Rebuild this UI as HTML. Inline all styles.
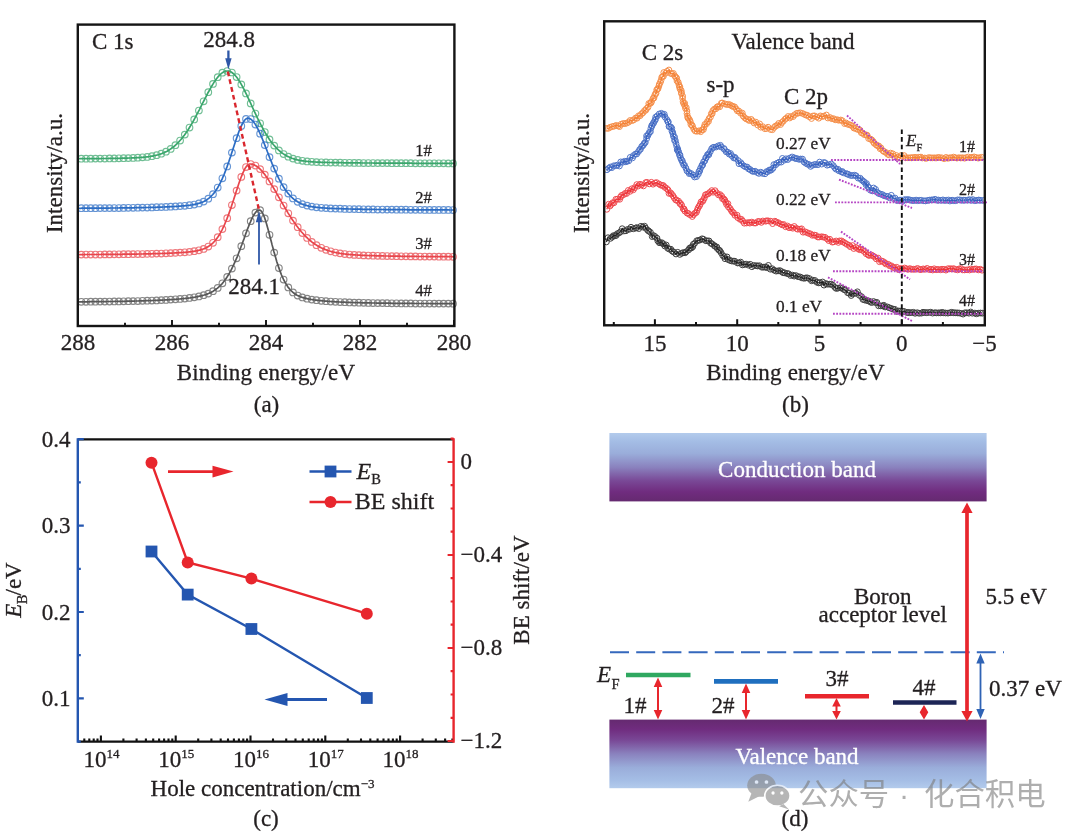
<!DOCTYPE html>
<html lang="en"><head><meta charset="utf-8"><title>Figure</title>
<style>
html,body{margin:0;padding:0;background:#fff;}
body{width:1080px;height:837px;overflow:hidden;}
svg{display:block;font-family:'Liberation Serif', 'Noto Serif CJK SC', serif;}
svg text{stroke:#231f20;stroke-width:0.3px;}
svg text.w{stroke:#fff;}
svg text.n{stroke:none;}
</style></head><body>
<svg width="1080" height="837" viewBox="0 0 1080 837">
<rect width="1080" height="837" fill="#fff"/>
<g id="pa">
<g fill="none" stroke="#3aa66c">
<g stroke-width="1.15" opacity="0.72"><circle cx="81.3" cy="158.7" r="3.3"/><circle cx="86" cy="158.7" r="3.3"/><circle cx="90.7" cy="158.7" r="3.3"/><circle cx="95.4" cy="158.6" r="3.3"/><circle cx="100.1" cy="158.6" r="3.3"/><circle cx="104.8" cy="158.5" r="3.3"/><circle cx="109.5" cy="158.4" r="3.3"/><circle cx="114.2" cy="158.4" r="3.3"/><circle cx="118.9" cy="158.3" r="3.3"/><circle cx="123.6" cy="158.2" r="3.3"/><circle cx="128.3" cy="158.1" r="3.3"/><circle cx="133.1" cy="157.9" r="3.3"/><circle cx="137.8" cy="157.7" r="3.3"/><circle cx="142.5" cy="157.3" r="3.3"/><circle cx="147.2" cy="156.9" r="3.3"/><circle cx="151.9" cy="156.2" r="3.3"/><circle cx="156.6" cy="155.2" r="3.3"/><circle cx="161.3" cy="153.7" r="3.3"/><circle cx="166" cy="151.7" r="3.3"/><circle cx="170.7" cy="148.9" r="3.3"/><circle cx="175.4" cy="145.2" r="3.3"/><circle cx="180.1" cy="140.5" r="3.3"/><circle cx="184.8" cy="134.6" r="3.3"/><circle cx="189.5" cy="127.5" r="3.3"/><circle cx="194.2" cy="119.4" r="3.3"/><circle cx="198.9" cy="110.5" r="3.3"/><circle cx="203.6" cy="101.3" r="3.3"/><circle cx="208.3" cy="92.2" r="3.3"/><circle cx="213" cy="83.9" r="3.3"/><circle cx="217.7" cy="77.2" r="3.3"/><circle cx="222.4" cy="72.7" r="3.3"/><circle cx="227.2" cy="71" r="3.3"/><circle cx="231.9" cy="72.5" r="3.3"/><circle cx="236.6" cy="77.1" r="3.3"/><circle cx="241.3" cy="84.4" r="3.3"/><circle cx="246" cy="93.4" r="3.3"/><circle cx="250.7" cy="103.4" r="3.3"/><circle cx="255.4" cy="113.6" r="3.3"/><circle cx="260.1" cy="123.3" r="3.3"/><circle cx="264.8" cy="132" r="3.3"/><circle cx="269.5" cy="139.4" r="3.3"/><circle cx="274.2" cy="145.6" r="3.3"/><circle cx="278.9" cy="150.4" r="3.3"/><circle cx="283.6" cy="154" r="3.3"/><circle cx="288.3" cy="156.7" r="3.3"/><circle cx="293" cy="158.6" r="3.3"/><circle cx="297.7" cy="159.9" r="3.3"/><circle cx="302.4" cy="160.8" r="3.3"/><circle cx="307.1" cy="161.4" r="3.3"/><circle cx="311.8" cy="161.8" r="3.3"/><circle cx="316.5" cy="162.1" r="3.3"/><circle cx="321.3" cy="162.3" r="3.3"/><circle cx="326" cy="162.4" r="3.3"/><circle cx="330.7" cy="162.5" r="3.3"/><circle cx="335.4" cy="162.6" r="3.3"/><circle cx="340.1" cy="162.7" r="3.3"/><circle cx="344.8" cy="162.8" r="3.3"/><circle cx="349.5" cy="162.8" r="3.3"/><circle cx="354.2" cy="162.9" r="3.3"/><circle cx="358.9" cy="162.9" r="3.3"/><circle cx="363.6" cy="163" r="3.3"/><circle cx="368.3" cy="163" r="3.3"/><circle cx="373" cy="163" r="3.3"/><circle cx="377.7" cy="163.1" r="3.3"/><circle cx="382.4" cy="163.1" r="3.3"/><circle cx="387.1" cy="163.1" r="3.3"/><circle cx="391.8" cy="163.2" r="3.3"/><circle cx="396.5" cy="163.2" r="3.3"/><circle cx="401.2" cy="163.2" r="3.3"/><circle cx="405.9" cy="163.2" r="3.3"/><circle cx="410.7" cy="163.2" r="3.3"/><circle cx="415.4" cy="163.3" r="3.3"/><circle cx="420.1" cy="163.3" r="3.3"/><circle cx="424.8" cy="163.3" r="3.3"/><circle cx="429.5" cy="163.3" r="3.3"/><circle cx="434.2" cy="163.3" r="3.3"/><circle cx="438.9" cy="163.3" r="3.3"/><circle cx="443.6" cy="163.3" r="3.3"/><circle cx="448.3" cy="163.4" r="3.3"/><circle cx="453" cy="163.4" r="3.3"/></g>
<polyline stroke-width="1.7" points="78,158.8 78.9,158.7 79.9,158.7 80.8,158.7 81.8,158.7 82.7,158.7 83.7,158.7 84.6,158.7 85.5,158.7 86.5,158.7 87.4,158.7 88.4,158.7 89.3,158.7 90.3,158.7 91.2,158.6 92.1,158.6 93.1,158.6 94,158.6 95,158.6 95.9,158.6 96.8,158.6 97.8,158.6 98.7,158.6 99.7,158.6 100.6,158.6 101.6,158.5 102.5,158.5 103.4,158.5 104.4,158.5 105.3,158.5 106.3,158.5 107.2,158.5 108.2,158.5 109.1,158.4 110,158.4 111,158.4 111.9,158.4 112.9,158.4 113.8,158.4 114.8,158.4 115.7,158.3 116.6,158.3 117.6,158.3 118.5,158.3 119.5,158.3 120.4,158.3 121.3,158.2 122.3,158.2 123.2,158.2 124.2,158.2 125.1,158.1 126.1,158.1 127,158.1 127.9,158.1 128.9,158 129.8,158 130.8,158 131.7,157.9 132.7,157.9 133.6,157.9 134.5,157.8 135.5,157.8 136.4,157.7 137.4,157.7 138.3,157.6 139.3,157.6 140.2,157.5 141.1,157.4 142.1,157.4 143,157.3 144,157.2 144.9,157.1 145.8,157 146.8,156.9 147.7,156.8 148.7,156.7 149.6,156.5 150.6,156.4 151.5,156.2 152.4,156.1 153.4,155.9 154.3,155.7 155.3,155.5 156.2,155.3 157.2,155 158.1,154.8 159,154.5 160,154.2 160.9,153.9 161.9,153.5 162.8,153.1 163.8,152.7 164.7,152.3 165.6,151.9 166.6,151.4 167.5,150.9 168.5,150.3 169.4,149.8 170.4,149.1 171.3,148.5 172.2,147.8 173.2,147.1 174.1,146.3 175.1,145.5 176,144.7 176.9,143.8 177.9,142.8 178.8,141.9 179.8,140.8 180.7,139.8 181.7,138.6 182.6,137.5 183.5,136.3 184.5,135 185.4,133.7 186.4,132.3 187.3,130.9 188.3,129.5 189.2,128 190.1,126.5 191.1,124.9 192,123.3 193,121.6 193.9,120 194.9,118.2 195.8,116.5 196.7,114.7 197.7,112.9 198.6,111.1 199.6,109.3 200.5,107.4 201.4,105.6 202.4,103.7 203.3,101.9 204.3,100 205.2,98.2 206.2,96.3 207.1,94.5 208,92.7 209,91 209.9,89.3 210.9,87.6 211.8,86 212.8,84.4 213.7,82.9 214.6,81.4 215.6,80.1 216.5,78.8 217.5,77.5 218.4,76.4 219.4,75.4 220.3,74.5 221.2,73.6 222.2,72.9 223.1,72.3 224.1,71.8 225,71.4 225.9,71.2 226.9,71 227.8,71 228.8,71.1 229.7,71.4 230.7,71.8 231.6,72.3 232.5,73 233.5,73.7 234.4,74.6 235.4,75.7 236.3,76.8 237.3,78 238.2,79.4 239.1,80.8 240.1,82.3 241,83.9 242,85.6 242.9,87.4 243.9,89.2 244.8,91 245.7,92.9 246.7,94.9 247.6,96.9 248.6,98.9 249.5,100.9 250.5,102.9 251.4,105 252.3,107 253.3,109.1 254.2,111.1 255.2,113.1 256.1,115.1 257,117.1 258,119 258.9,121 259.9,122.8 260.8,124.7 261.8,126.5 262.7,128.2 263.6,130 264.6,131.6 265.5,133.2 266.5,134.8 267.4,136.3 268.4,137.8 269.3,139.2 270.2,140.5 271.2,141.8 272.1,143 273.1,144.2 274,145.3 275,146.4 275.9,147.4 276.8,148.4 277.8,149.3 278.7,150.2 279.7,151 280.6,151.8 281.5,152.6 282.5,153.3 283.4,153.9 284.4,154.5 285.3,155.1 286.3,155.6 287.2,156.2 288.1,156.6 289.1,157.1 290,157.5 291,157.9 291.9,158.2 292.9,158.5 293.8,158.9 294.7,159.1 295.7,159.4 296.6,159.6 297.6,159.9 298.5,160.1 299.5,160.3 300.4,160.5 301.3,160.6 302.3,160.8 303.2,160.9 304.2,161 305.1,161.2 306.1,161.3 307,161.4 307.9,161.5 308.9,161.6 309.8,161.6 310.8,161.7 311.7,161.8 312.6,161.8 313.6,161.9 314.5,162 315.5,162 316.4,162.1 317.4,162.1 318.3,162.1 319.2,162.2 320.2,162.2 321.1,162.3 322.1,162.3 323,162.3 324,162.4 324.9,162.4 325.8,162.4 326.8,162.4 327.7,162.5 328.7,162.5 329.6,162.5 330.6,162.5 331.5,162.5 332.4,162.6 333.4,162.6 334.3,162.6 335.3,162.6 336.2,162.6 337.1,162.7 338.1,162.7 339,162.7 340,162.7 340.9,162.7 341.9,162.7 342.8,162.7 343.7,162.8 344.7,162.8 345.6,162.8 346.6,162.8 347.5,162.8 348.5,162.8 349.4,162.8 350.3,162.8 351.3,162.8 352.2,162.9 353.2,162.9 354.1,162.9 355.1,162.9 356,162.9 356.9,162.9 357.9,162.9 358.8,162.9 359.8,162.9 360.7,162.9 361.6,163 362.6,163 363.5,163 364.5,163 365.4,163 366.4,163 367.3,163 368.2,163 369.2,163 370.1,163 371.1,163 372,163 373,163 373.9,163.1 374.8,163.1 375.8,163.1 376.7,163.1 377.7,163.1 378.6,163.1 379.6,163.1 380.5,163.1 381.4,163.1 382.4,163.1 383.3,163.1 384.3,163.1 385.2,163.1 386.2,163.1 387.1,163.1 388,163.1 389,163.1 389.9,163.2 390.9,163.2 391.8,163.2 392.7,163.2 393.7,163.2 394.6,163.2 395.6,163.2 396.5,163.2 397.5,163.2 398.4,163.2 399.3,163.2 400.3,163.2 401.2,163.2 402.2,163.2 403.1,163.2 404.1,163.2 405,163.2 405.9,163.2 406.9,163.2 407.8,163.2 408.8,163.2 409.7,163.2 410.7,163.2 411.6,163.2 412.5,163.3 413.5,163.3 414.4,163.3 415.4,163.3 416.3,163.3 417.2,163.3 418.2,163.3 419.1,163.3 420.1,163.3 421,163.3 422,163.3 422.9,163.3 423.8,163.3 424.8,163.3 425.7,163.3 426.7,163.3 427.6,163.3 428.6,163.3 429.5,163.3 430.4,163.3 431.4,163.3 432.3,163.3 433.3,163.3 434.2,163.3 435.2,163.3 436.1,163.3 437,163.3 438,163.3 438.9,163.3 439.9,163.3 440.8,163.3 441.7,163.3 442.7,163.3 443.6,163.3 444.6,163.3 445.5,163.3 446.5,163.4 447.4,163.4 448.3,163.4 449.3,163.4 450.2,163.4 451.2,163.4 452.1,163.4 453.1,163.4 454,163.4"/>
</g>
<g fill="none" stroke="#2b6cc4">
<g stroke-width="1.15" opacity="0.72"><circle cx="81.3" cy="208.2" r="3.3"/><circle cx="86" cy="208.2" r="3.3"/><circle cx="90.7" cy="208.2" r="3.3"/><circle cx="95.4" cy="208.2" r="3.3"/><circle cx="100.1" cy="208.1" r="3.3"/><circle cx="104.8" cy="208.1" r="3.3"/><circle cx="109.5" cy="208.1" r="3.3"/><circle cx="114.2" cy="208" r="3.3"/><circle cx="118.9" cy="208" r="3.3"/><circle cx="123.6" cy="207.9" r="3.3"/><circle cx="128.3" cy="207.8" r="3.3"/><circle cx="133.1" cy="207.8" r="3.3"/><circle cx="137.8" cy="207.7" r="3.3"/><circle cx="142.5" cy="207.6" r="3.3"/><circle cx="147.2" cy="207.5" r="3.3"/><circle cx="151.9" cy="207.4" r="3.3"/><circle cx="156.6" cy="207.2" r="3.3"/><circle cx="161.3" cy="207.1" r="3.3"/><circle cx="166" cy="206.9" r="3.3"/><circle cx="170.7" cy="206.7" r="3.3"/><circle cx="175.4" cy="206.4" r="3.3"/><circle cx="180.1" cy="206.1" r="3.3"/><circle cx="184.8" cy="205.8" r="3.3"/><circle cx="189.5" cy="205.2" r="3.3"/><circle cx="194.2" cy="204.5" r="3.3"/><circle cx="198.9" cy="203.4" r="3.3"/><circle cx="203.6" cy="201.6" r="3.3"/><circle cx="208.3" cy="198.7" r="3.3"/><circle cx="213" cy="194.2" r="3.3"/><circle cx="217.7" cy="187.5" r="3.3"/><circle cx="222.4" cy="178.3" r="3.3"/><circle cx="227.2" cy="166.4" r="3.3"/><circle cx="231.9" cy="152.6" r="3.3"/><circle cx="236.6" cy="138.2" r="3.3"/><circle cx="241.3" cy="125.9" r="3.3"/><circle cx="246" cy="118.9" r="3.3"/><circle cx="250.7" cy="119.1" r="3.3"/><circle cx="255.4" cy="124.5" r="3.3"/><circle cx="260.1" cy="133.7" r="3.3"/><circle cx="264.8" cy="145.1" r="3.3"/><circle cx="269.5" cy="157.1" r="3.3"/><circle cx="274.2" cy="168.6" r="3.3"/><circle cx="278.9" cy="178.7" r="3.3"/><circle cx="283.6" cy="187.1" r="3.3"/><circle cx="288.3" cy="193.6" r="3.3"/><circle cx="293" cy="198.4" r="3.3"/><circle cx="297.7" cy="201.8" r="3.3"/><circle cx="302.4" cy="204.1" r="3.3"/><circle cx="307.1" cy="205.6" r="3.3"/><circle cx="311.8" cy="206.6" r="3.3"/><circle cx="316.5" cy="207.3" r="3.3"/><circle cx="321.3" cy="207.8" r="3.3"/><circle cx="326" cy="208.1" r="3.3"/><circle cx="330.7" cy="208.4" r="3.3"/><circle cx="335.4" cy="208.6" r="3.3"/><circle cx="340.1" cy="208.7" r="3.3"/><circle cx="344.8" cy="208.9" r="3.3"/><circle cx="349.5" cy="209" r="3.3"/><circle cx="354.2" cy="209.1" r="3.3"/><circle cx="358.9" cy="209.2" r="3.3"/><circle cx="363.6" cy="209.3" r="3.3"/><circle cx="368.3" cy="209.4" r="3.3"/><circle cx="373" cy="209.4" r="3.3"/><circle cx="377.7" cy="209.5" r="3.3"/><circle cx="382.4" cy="209.5" r="3.3"/><circle cx="387.1" cy="209.6" r="3.3"/><circle cx="391.8" cy="209.6" r="3.3"/><circle cx="396.5" cy="209.7" r="3.3"/><circle cx="401.2" cy="209.7" r="3.3"/><circle cx="405.9" cy="209.7" r="3.3"/><circle cx="410.7" cy="209.8" r="3.3"/><circle cx="415.4" cy="209.8" r="3.3"/><circle cx="420.1" cy="209.8" r="3.3"/><circle cx="424.8" cy="209.9" r="3.3"/><circle cx="429.5" cy="209.9" r="3.3"/><circle cx="434.2" cy="209.9" r="3.3"/><circle cx="438.9" cy="209.9" r="3.3"/><circle cx="443.6" cy="209.9" r="3.3"/><circle cx="448.3" cy="209.9" r="3.3"/><circle cx="453" cy="210" r="3.3"/></g>
<polyline stroke-width="1.7" points="78,208.3 78.9,208.3 79.9,208.3 80.8,208.3 81.8,208.2 82.7,208.2 83.7,208.2 84.6,208.2 85.5,208.2 86.5,208.2 87.4,208.2 88.4,208.2 89.3,208.2 90.3,208.2 91.2,208.2 92.1,208.2 93.1,208.2 94,208.2 95,208.2 95.9,208.2 96.8,208.2 97.8,208.1 98.7,208.1 99.7,208.1 100.6,208.1 101.6,208.1 102.5,208.1 103.4,208.1 104.4,208.1 105.3,208.1 106.3,208.1 107.2,208.1 108.2,208.1 109.1,208.1 110,208 111,208 111.9,208 112.9,208 113.8,208 114.8,208 115.7,208 116.6,208 117.6,208 118.5,208 119.5,207.9 120.4,207.9 121.3,207.9 122.3,207.9 123.2,207.9 124.2,207.9 125.1,207.9 126.1,207.9 127,207.9 127.9,207.8 128.9,207.8 129.8,207.8 130.8,207.8 131.7,207.8 132.7,207.8 133.6,207.8 134.5,207.7 135.5,207.7 136.4,207.7 137.4,207.7 138.3,207.7 139.3,207.7 140.2,207.6 141.1,207.6 142.1,207.6 143,207.6 144,207.6 144.9,207.5 145.8,207.5 146.8,207.5 147.7,207.5 148.7,207.5 149.6,207.4 150.6,207.4 151.5,207.4 152.4,207.4 153.4,207.3 154.3,207.3 155.3,207.3 156.2,207.3 157.2,207.2 158.1,207.2 159,207.2 160,207.1 160.9,207.1 161.9,207.1 162.8,207 163.8,207 164.7,207 165.6,206.9 166.6,206.9 167.5,206.8 168.5,206.8 169.4,206.8 170.4,206.7 171.3,206.7 172.2,206.6 173.2,206.6 174.1,206.5 175.1,206.5 176,206.4 176.9,206.4 177.9,206.3 178.8,206.2 179.8,206.2 180.7,206.1 181.7,206 182.6,205.9 183.5,205.9 184.5,205.8 185.4,205.7 186.4,205.6 187.3,205.5 188.3,205.4 189.2,205.3 190.1,205.2 191.1,205 192,204.9 193,204.7 193.9,204.6 194.9,204.4 195.8,204.2 196.7,203.9 197.7,203.7 198.6,203.4 199.6,203.2 200.5,202.8 201.4,202.5 202.4,202.1 203.3,201.7 204.3,201.2 205.2,200.7 206.2,200.2 207.1,199.6 208,198.9 209,198.2 209.9,197.4 210.9,196.5 211.8,195.5 212.8,194.5 213.7,193.4 214.6,192.2 215.6,190.9 216.5,189.5 217.5,188 218.4,186.4 219.4,184.7 220.3,182.9 221.2,180.9 222.2,178.9 223.1,176.7 224.1,174.5 225,172.1 225.9,169.7 226.9,167.1 227.8,164.5 228.8,161.8 229.7,159 230.7,156.2 231.6,153.3 232.5,150.5 233.5,147.5 234.4,144.7 235.4,141.8 236.3,139 237.3,136.2 238.2,133.6 239.1,131 240.1,128.7 241,126.5 242,124.5 242.9,122.7 243.9,121.2 244.8,120 245.7,119.1 246.7,118.5 247.6,118.2 248.6,118.3 249.5,118.5 250.5,119 251.4,119.6 252.3,120.5 253.3,121.5 254.2,122.8 255.2,124.1 256.1,125.7 257,127.4 258,129.2 258.9,131.2 259.9,133.2 260.8,135.3 261.8,137.6 262.7,139.8 263.6,142.2 264.6,144.5 265.5,146.9 266.5,149.3 267.4,151.8 268.4,154.2 269.3,156.6 270.2,159 271.2,161.3 272.1,163.6 273.1,165.9 274,168.1 275,170.3 275.9,172.4 276.8,174.5 277.8,176.4 278.7,178.3 279.7,180.2 280.6,181.9 281.5,183.6 282.5,185.3 283.4,186.8 284.4,188.3 285.3,189.7 286.3,191 287.2,192.2 288.1,193.4 289.1,194.5 290,195.5 291,196.5 291.9,197.4 292.9,198.3 293.8,199.1 294.7,199.8 295.7,200.5 296.6,201.1 297.6,201.7 298.5,202.3 299.5,202.8 300.4,203.2 301.3,203.7 302.3,204.1 303.2,204.4 304.2,204.8 305.1,205.1 306.1,205.3 307,205.6 307.9,205.8 308.9,206.1 309.8,206.3 310.8,206.5 311.7,206.6 312.6,206.8 313.6,206.9 314.5,207.1 315.5,207.2 316.4,207.3 317.4,207.4 318.3,207.5 319.2,207.6 320.2,207.7 321.1,207.8 322.1,207.8 323,207.9 324,208 324.9,208 325.8,208.1 326.8,208.2 327.7,208.2 328.7,208.3 329.6,208.3 330.6,208.3 331.5,208.4 332.4,208.4 333.4,208.5 334.3,208.5 335.3,208.6 336.2,208.6 337.1,208.6 338.1,208.7 339,208.7 340,208.7 340.9,208.7 341.9,208.8 342.8,208.8 343.7,208.8 344.7,208.9 345.6,208.9 346.6,208.9 347.5,208.9 348.5,209 349.4,209 350.3,209 351.3,209 352.2,209.1 353.2,209.1 354.1,209.1 355.1,209.1 356,209.1 356.9,209.2 357.9,209.2 358.8,209.2 359.8,209.2 360.7,209.2 361.6,209.2 362.6,209.3 363.5,209.3 364.5,209.3 365.4,209.3 366.4,209.3 367.3,209.3 368.2,209.4 369.2,209.4 370.1,209.4 371.1,209.4 372,209.4 373,209.4 373.9,209.4 374.8,209.4 375.8,209.5 376.7,209.5 377.7,209.5 378.6,209.5 379.6,209.5 380.5,209.5 381.4,209.5 382.4,209.5 383.3,209.5 384.3,209.6 385.2,209.6 386.2,209.6 387.1,209.6 388,209.6 389,209.6 389.9,209.6 390.9,209.6 391.8,209.6 392.7,209.6 393.7,209.6 394.6,209.7 395.6,209.7 396.5,209.7 397.5,209.7 398.4,209.7 399.3,209.7 400.3,209.7 401.2,209.7 402.2,209.7 403.1,209.7 404.1,209.7 405,209.7 405.9,209.7 406.9,209.7 407.8,209.8 408.8,209.8 409.7,209.8 410.7,209.8 411.6,209.8 412.5,209.8 413.5,209.8 414.4,209.8 415.4,209.8 416.3,209.8 417.2,209.8 418.2,209.8 419.1,209.8 420.1,209.8 421,209.8 422,209.8 422.9,209.8 423.8,209.8 424.8,209.9 425.7,209.9 426.7,209.9 427.6,209.9 428.6,209.9 429.5,209.9 430.4,209.9 431.4,209.9 432.3,209.9 433.3,209.9 434.2,209.9 435.2,209.9 436.1,209.9 437,209.9 438,209.9 438.9,209.9 439.9,209.9 440.8,209.9 441.7,209.9 442.7,209.9 443.6,209.9 444.6,209.9 445.5,209.9 446.5,209.9 447.4,209.9 448.3,209.9 449.3,210 450.2,210 451.2,210 452.1,210 453.1,210 454,210"/>
</g>
<g fill="none" stroke="#e8454b">
<g stroke-width="1.15" opacity="0.72"><circle cx="81.3" cy="254.6" r="3.3"/><circle cx="86" cy="254.5" r="3.3"/><circle cx="90.7" cy="254.5" r="3.3"/><circle cx="95.4" cy="254.5" r="3.3"/><circle cx="100.1" cy="254.5" r="3.3"/><circle cx="104.8" cy="254.4" r="3.3"/><circle cx="109.5" cy="254.4" r="3.3"/><circle cx="114.2" cy="254.3" r="3.3"/><circle cx="118.9" cy="254.3" r="3.3"/><circle cx="123.6" cy="254.2" r="3.3"/><circle cx="128.3" cy="254.2" r="3.3"/><circle cx="133.1" cy="254.1" r="3.3"/><circle cx="137.8" cy="254" r="3.3"/><circle cx="142.5" cy="254" r="3.3"/><circle cx="147.2" cy="253.9" r="3.3"/><circle cx="151.9" cy="253.8" r="3.3"/><circle cx="156.6" cy="253.6" r="3.3"/><circle cx="161.3" cy="253.5" r="3.3"/><circle cx="166" cy="253.3" r="3.3"/><circle cx="170.7" cy="253.1" r="3.3"/><circle cx="175.4" cy="252.9" r="3.3"/><circle cx="180.1" cy="252.6" r="3.3"/><circle cx="184.8" cy="252.3" r="3.3"/><circle cx="189.5" cy="251.9" r="3.3"/><circle cx="194.2" cy="251.2" r="3.3"/><circle cx="198.9" cy="250.3" r="3.3"/><circle cx="203.6" cy="248.9" r="3.3"/><circle cx="208.3" cy="246.5" r="3.3"/><circle cx="213" cy="242.8" r="3.3"/><circle cx="217.7" cy="237.2" r="3.3"/><circle cx="222.4" cy="229.1" r="3.3"/><circle cx="227.2" cy="218.2" r="3.3"/><circle cx="231.9" cy="205" r="3.3"/><circle cx="236.6" cy="190.6" r="3.3"/><circle cx="241.3" cy="176.9" r="3.3"/><circle cx="246" cy="167" r="3.3"/><circle cx="250.7" cy="164" r="3.3"/><circle cx="255.4" cy="165.5" r="3.3"/><circle cx="260.1" cy="169.1" r="3.3"/><circle cx="264.8" cy="174.6" r="3.3"/><circle cx="269.5" cy="181.4" r="3.3"/><circle cx="274.2" cy="189.1" r="3.3"/><circle cx="278.9" cy="197.3" r="3.3"/><circle cx="283.6" cy="205.5" r="3.3"/><circle cx="288.3" cy="213.3" r="3.3"/><circle cx="293" cy="220.6" r="3.3"/><circle cx="297.7" cy="227.2" r="3.3"/><circle cx="302.4" cy="233" r="3.3"/><circle cx="307.1" cy="237.9" r="3.3"/><circle cx="311.8" cy="241.9" r="3.3"/><circle cx="316.5" cy="245.2" r="3.3"/><circle cx="321.3" cy="247.8" r="3.3"/><circle cx="326" cy="249.8" r="3.3"/><circle cx="330.7" cy="251.3" r="3.3"/><circle cx="335.4" cy="252.5" r="3.3"/><circle cx="340.1" cy="253.4" r="3.3"/><circle cx="344.8" cy="254" r="3.3"/><circle cx="349.5" cy="254.5" r="3.3"/><circle cx="354.2" cy="254.9" r="3.3"/><circle cx="358.9" cy="255.1" r="3.3"/><circle cx="363.6" cy="255.4" r="3.3"/><circle cx="368.3" cy="255.5" r="3.3"/><circle cx="373" cy="255.7" r="3.3"/><circle cx="377.7" cy="255.8" r="3.3"/><circle cx="382.4" cy="255.9" r="3.3"/><circle cx="387.1" cy="256" r="3.3"/><circle cx="391.8" cy="256.1" r="3.3"/><circle cx="396.5" cy="256.2" r="3.3"/><circle cx="401.2" cy="256.3" r="3.3"/><circle cx="405.9" cy="256.3" r="3.3"/><circle cx="410.7" cy="256.4" r="3.3"/><circle cx="415.4" cy="256.4" r="3.3"/><circle cx="420.1" cy="256.5" r="3.3"/><circle cx="424.8" cy="256.5" r="3.3"/><circle cx="429.5" cy="256.6" r="3.3"/><circle cx="434.2" cy="256.6" r="3.3"/><circle cx="438.9" cy="256.7" r="3.3"/><circle cx="443.6" cy="256.7" r="3.3"/><circle cx="448.3" cy="256.7" r="3.3"/><circle cx="453" cy="256.8" r="3.3"/></g>
<polyline stroke-width="1.7" points="78,254.6 78.9,254.6 79.9,254.6 80.8,254.6 81.8,254.6 82.7,254.6 83.7,254.6 84.6,254.6 85.5,254.5 86.5,254.5 87.4,254.5 88.4,254.5 89.3,254.5 90.3,254.5 91.2,254.5 92.1,254.5 93.1,254.5 94,254.5 95,254.5 95.9,254.5 96.8,254.5 97.8,254.5 98.7,254.5 99.7,254.5 100.6,254.5 101.6,254.4 102.5,254.4 103.4,254.4 104.4,254.4 105.3,254.4 106.3,254.4 107.2,254.4 108.2,254.4 109.1,254.4 110,254.4 111,254.4 111.9,254.4 112.9,254.4 113.8,254.3 114.8,254.3 115.7,254.3 116.6,254.3 117.6,254.3 118.5,254.3 119.5,254.3 120.4,254.3 121.3,254.3 122.3,254.3 123.2,254.2 124.2,254.2 125.1,254.2 126.1,254.2 127,254.2 127.9,254.2 128.9,254.2 129.8,254.2 130.8,254.2 131.7,254.1 132.7,254.1 133.6,254.1 134.5,254.1 135.5,254.1 136.4,254.1 137.4,254.1 138.3,254 139.3,254 140.2,254 141.1,254 142.1,254 143,254 144,253.9 144.9,253.9 145.8,253.9 146.8,253.9 147.7,253.9 148.7,253.8 149.6,253.8 150.6,253.8 151.5,253.8 152.4,253.7 153.4,253.7 154.3,253.7 155.3,253.7 156.2,253.7 157.2,253.6 158.1,253.6 159,253.6 160,253.5 160.9,253.5 161.9,253.5 162.8,253.4 163.8,253.4 164.7,253.4 165.6,253.3 166.6,253.3 167.5,253.3 168.5,253.2 169.4,253.2 170.4,253.2 171.3,253.1 172.2,253.1 173.2,253 174.1,253 175.1,252.9 176,252.9 176.9,252.8 177.9,252.8 178.8,252.7 179.8,252.7 180.7,252.6 181.7,252.5 182.6,252.5 183.5,252.4 184.5,252.3 185.4,252.3 186.4,252.2 187.3,252.1 188.3,252 189.2,251.9 190.1,251.8 191.1,251.7 192,251.6 193,251.4 193.9,251.3 194.9,251.1 195.8,251 196.7,250.8 197.7,250.6 198.6,250.4 199.6,250.2 200.5,249.9 201.4,249.6 202.4,249.3 203.3,249 204.3,248.6 205.2,248.2 206.2,247.8 207.1,247.3 208,246.7 209,246.1 209.9,245.5 210.9,244.7 211.8,244 212.8,243.1 213.7,242.2 214.6,241.2 215.6,240 216.5,238.9 217.5,237.6 218.4,236.2 219.4,234.7 220.3,233.1 221.2,231.4 222.2,229.6 223.1,227.7 224.1,225.6 225,223.5 225.9,221.3 226.9,218.9 227.8,216.5 228.8,213.9 229.7,211.3 230.7,208.6 231.6,205.8 232.5,203 233.5,200.1 234.4,197.2 235.4,194.2 236.3,191.3 237.3,188.4 238.2,185.6 239.1,182.8 240.1,180.1 241,177.5 242,175.1 242.9,172.8 243.9,170.8 244.8,168.9 245.7,167.4 246.7,166.1 247.6,165.1 248.6,164.4 249.5,164 250.5,164 251.4,164.1 252.3,164.3 253.3,164.6 254.2,164.9 255.2,165.4 256.1,165.9 257,166.5 258,167.2 258.9,168 259.9,168.9 260.8,169.8 261.8,170.9 262.7,171.9 263.6,173.1 264.6,174.3 265.5,175.6 266.5,176.9 267.4,178.2 268.4,179.6 269.3,181.1 270.2,182.6 271.2,184.1 272.1,185.6 273.1,187.2 274,188.8 275,190.4 275.9,192 276.8,193.7 277.8,195.3 278.7,197 279.7,198.6 280.6,200.3 281.5,201.9 282.5,203.5 283.4,205.2 284.4,206.8 285.3,208.4 286.3,210 287.2,211.5 288.1,213.1 289.1,214.6 290,216.1 291,217.5 291.9,219 292.9,220.4 293.8,221.8 294.7,223.1 295.7,224.5 296.6,225.8 297.6,227 298.5,228.2 299.5,229.4 300.4,230.6 301.3,231.7 302.3,232.8 303.2,233.8 304.2,234.9 305.1,235.8 306.1,236.8 307,237.7 307.9,238.6 308.9,239.4 309.8,240.3 310.8,241 311.7,241.8 312.6,242.5 313.6,243.2 314.5,243.9 315.5,244.5 316.4,245.1 317.4,245.7 318.3,246.2 319.2,246.7 320.2,247.2 321.1,247.7 322.1,248.2 323,248.6 324,249 324.9,249.4 325.8,249.7 326.8,250.1 327.7,250.4 328.7,250.7 329.6,251 330.6,251.3 331.5,251.6 332.4,251.8 333.4,252 334.3,252.3 335.3,252.5 336.2,252.7 337.1,252.9 338.1,253 339,253.2 340,253.4 340.9,253.5 341.9,253.6 342.8,253.8 343.7,253.9 344.7,254 345.6,254.1 346.6,254.2 347.5,254.3 348.5,254.4 349.4,254.5 350.3,254.6 351.3,254.7 352.2,254.7 353.2,254.8 354.1,254.9 355.1,254.9 356,255 356.9,255 357.9,255.1 358.8,255.1 359.8,255.2 360.7,255.2 361.6,255.3 362.6,255.3 363.5,255.4 364.5,255.4 365.4,255.4 366.4,255.5 367.3,255.5 368.2,255.5 369.2,255.6 370.1,255.6 371.1,255.6 372,255.7 373,255.7 373.9,255.7 374.8,255.7 375.8,255.8 376.7,255.8 377.7,255.8 378.6,255.8 379.6,255.9 380.5,255.9 381.4,255.9 382.4,255.9 383.3,255.9 384.3,256 385.2,256 386.2,256 387.1,256 388,256 389,256.1 389.9,256.1 390.9,256.1 391.8,256.1 392.7,256.1 393.7,256.1 394.6,256.2 395.6,256.2 396.5,256.2 397.5,256.2 398.4,256.2 399.3,256.2 400.3,256.2 401.2,256.3 402.2,256.3 403.1,256.3 404.1,256.3 405,256.3 405.9,256.3 406.9,256.3 407.8,256.3 408.8,256.4 409.7,256.4 410.7,256.4 411.6,256.4 412.5,256.4 413.5,256.4 414.4,256.4 415.4,256.4 416.3,256.4 417.2,256.5 418.2,256.5 419.1,256.5 420.1,256.5 421,256.5 422,256.5 422.9,256.5 423.8,256.5 424.8,256.5 425.7,256.5 426.7,256.6 427.6,256.6 428.6,256.6 429.5,256.6 430.4,256.6 431.4,256.6 432.3,256.6 433.3,256.6 434.2,256.6 435.2,256.6 436.1,256.6 437,256.6 438,256.6 438.9,256.7 439.9,256.7 440.8,256.7 441.7,256.7 442.7,256.7 443.6,256.7 444.6,256.7 445.5,256.7 446.5,256.7 447.4,256.7 448.3,256.7 449.3,256.7 450.2,256.7 451.2,256.7 452.1,256.7 453.1,256.8 454,256.8"/>
</g>
<g fill="none" stroke="#585858">
<g stroke-width="1.15" opacity="0.72"><circle cx="81.3" cy="301.8" r="3.3"/><circle cx="86" cy="301.8" r="3.3"/><circle cx="90.7" cy="301.7" r="3.3"/><circle cx="95.4" cy="301.7" r="3.3"/><circle cx="100.1" cy="301.6" r="3.3"/><circle cx="104.8" cy="301.6" r="3.3"/><circle cx="109.5" cy="301.5" r="3.3"/><circle cx="114.2" cy="301.4" r="3.3"/><circle cx="118.9" cy="301.4" r="3.3"/><circle cx="123.6" cy="301.3" r="3.3"/><circle cx="128.3" cy="301.2" r="3.3"/><circle cx="133.1" cy="301.1" r="3.3"/><circle cx="137.8" cy="301" r="3.3"/><circle cx="142.5" cy="300.8" r="3.3"/><circle cx="147.2" cy="300.7" r="3.3"/><circle cx="151.9" cy="300.5" r="3.3"/><circle cx="156.6" cy="300.4" r="3.3"/><circle cx="161.3" cy="300.1" r="3.3"/><circle cx="166" cy="299.9" r="3.3"/><circle cx="170.7" cy="299.6" r="3.3"/><circle cx="175.4" cy="299.3" r="3.3"/><circle cx="180.1" cy="298.9" r="3.3"/><circle cx="184.8" cy="298.5" r="3.3"/><circle cx="189.5" cy="297.9" r="3.3"/><circle cx="194.2" cy="297.3" r="3.3"/><circle cx="198.9" cy="296.4" r="3.3"/><circle cx="203.6" cy="295.2" r="3.3"/><circle cx="208.3" cy="293.6" r="3.3"/><circle cx="213" cy="291.2" r="3.3"/><circle cx="217.7" cy="287.9" r="3.3"/><circle cx="222.4" cy="283.3" r="3.3"/><circle cx="227.2" cy="276.9" r="3.3"/><circle cx="231.9" cy="268.6" r="3.3"/><circle cx="236.6" cy="258.3" r="3.3"/><circle cx="241.3" cy="246.2" r="3.3"/><circle cx="246" cy="233.3" r="3.3"/><circle cx="250.7" cy="221.2" r="3.3"/><circle cx="255.4" cy="212.6" r="3.3"/><circle cx="260.1" cy="210.1" r="3.3"/><circle cx="264.8" cy="218.4" r="3.3"/><circle cx="269.5" cy="234.8" r="3.3"/><circle cx="274.2" cy="252.6" r="3.3"/><circle cx="278.9" cy="268" r="3.3"/><circle cx="283.6" cy="279.5" r="3.3"/><circle cx="288.3" cy="287.4" r="3.3"/><circle cx="293" cy="292.4" r="3.3"/><circle cx="297.7" cy="295.5" r="3.3"/><circle cx="302.4" cy="297.4" r="3.3"/><circle cx="307.1" cy="298.7" r="3.3"/><circle cx="311.8" cy="299.6" r="3.3"/><circle cx="316.5" cy="300.2" r="3.3"/><circle cx="321.3" cy="300.8" r="3.3"/><circle cx="326" cy="301.2" r="3.3"/><circle cx="330.7" cy="301.5" r="3.3"/><circle cx="335.4" cy="301.8" r="3.3"/><circle cx="340.1" cy="302" r="3.3"/><circle cx="344.8" cy="302.2" r="3.3"/><circle cx="349.5" cy="302.4" r="3.3"/><circle cx="354.2" cy="302.6" r="3.3"/><circle cx="358.9" cy="302.7" r="3.3"/><circle cx="363.6" cy="302.8" r="3.3"/><circle cx="368.3" cy="302.9" r="3.3"/><circle cx="373" cy="303" r="3.3"/><circle cx="377.7" cy="303.1" r="3.3"/><circle cx="382.4" cy="303.1" r="3.3"/><circle cx="387.1" cy="303.2" r="3.3"/><circle cx="391.8" cy="303.3" r="3.3"/><circle cx="396.5" cy="303.3" r="3.3"/><circle cx="401.2" cy="303.4" r="3.3"/><circle cx="405.9" cy="303.4" r="3.3"/><circle cx="410.7" cy="303.4" r="3.3"/><circle cx="415.4" cy="303.5" r="3.3"/><circle cx="420.1" cy="303.5" r="3.3"/><circle cx="424.8" cy="303.5" r="3.3"/><circle cx="429.5" cy="303.5" r="3.3"/><circle cx="434.2" cy="303.6" r="3.3"/><circle cx="438.9" cy="303.6" r="3.3"/><circle cx="443.6" cy="303.6" r="3.3"/><circle cx="448.3" cy="303.6" r="3.3"/><circle cx="453" cy="303.7" r="3.3"/></g>
<polyline stroke-width="1.7" points="78,301.9 78.9,301.8 79.9,301.8 80.8,301.8 81.8,301.8 82.7,301.8 83.7,301.8 84.6,301.8 85.5,301.8 86.5,301.8 87.4,301.8 88.4,301.8 89.3,301.8 90.3,301.7 91.2,301.7 92.1,301.7 93.1,301.7 94,301.7 95,301.7 95.9,301.7 96.8,301.7 97.8,301.7 98.7,301.7 99.7,301.6 100.6,301.6 101.6,301.6 102.5,301.6 103.4,301.6 104.4,301.6 105.3,301.6 106.3,301.6 107.2,301.5 108.2,301.5 109.1,301.5 110,301.5 111,301.5 111.9,301.5 112.9,301.5 113.8,301.5 114.8,301.4 115.7,301.4 116.6,301.4 117.6,301.4 118.5,301.4 119.5,301.4 120.4,301.3 121.3,301.3 122.3,301.3 123.2,301.3 124.2,301.3 125.1,301.3 126.1,301.2 127,301.2 127.9,301.2 128.9,301.2 129.8,301.2 130.8,301.1 131.7,301.1 132.7,301.1 133.6,301.1 134.5,301.1 135.5,301 136.4,301 137.4,301 138.3,301 139.3,300.9 140.2,300.9 141.1,300.9 142.1,300.9 143,300.8 144,300.8 144.9,300.8 145.8,300.7 146.8,300.7 147.7,300.7 148.7,300.7 149.6,300.6 150.6,300.6 151.5,300.6 152.4,300.5 153.4,300.5 154.3,300.4 155.3,300.4 156.2,300.4 157.2,300.3 158.1,300.3 159,300.2 160,300.2 160.9,300.2 161.9,300.1 162.8,300.1 163.8,300 164.7,300 165.6,299.9 166.6,299.9 167.5,299.8 168.5,299.8 169.4,299.7 170.4,299.6 171.3,299.6 172.2,299.5 173.2,299.5 174.1,299.4 175.1,299.3 176,299.3 176.9,299.2 177.9,299.1 178.8,299 179.8,299 180.7,298.9 181.7,298.8 182.6,298.7 183.5,298.6 184.5,298.5 185.4,298.4 186.4,298.3 187.3,298.2 188.3,298.1 189.2,298 190.1,297.9 191.1,297.7 192,297.6 193,297.5 193.9,297.3 194.9,297.2 195.8,297 196.7,296.8 197.7,296.6 198.6,296.4 199.6,296.2 200.5,296 201.4,295.8 202.4,295.6 203.3,295.3 204.3,295 205.2,294.7 206.2,294.4 207.1,294.1 208,293.7 209,293.3 209.9,292.9 210.9,292.4 211.8,291.9 212.8,291.4 213.7,290.8 214.6,290.2 215.6,289.6 216.5,288.9 217.5,288.2 218.4,287.4 219.4,286.5 220.3,285.6 221.2,284.6 222.2,283.6 223.1,282.5 224.1,281.3 225,280 225.9,278.7 226.9,277.3 227.8,275.8 228.8,274.3 229.7,272.6 230.7,270.9 231.6,269.1 232.5,267.2 233.5,265.2 234.4,263.2 235.4,261.1 236.3,258.8 237.3,256.6 238.2,254.2 239.1,251.8 240.1,249.4 241,246.8 242,244.3 242.9,241.7 243.9,239.1 244.8,236.5 245.7,233.9 246.7,231.4 247.6,228.8 248.6,226.4 249.5,224 250.5,221.8 251.4,219.6 252.3,217.7 253.3,215.9 254.2,214.3 255.2,212.9 256.1,211.8 257,210.9 258,210.3 258.9,210 259.9,210.1 260.8,210.6 261.8,211.7 262.7,213.3 263.6,215.3 264.6,217.8 265.5,220.6 266.5,223.7 267.4,227 268.4,230.5 269.3,234 270.2,237.7 271.2,241.3 272.1,244.9 273.1,248.5 274,251.9 275,255.3 275.9,258.5 276.8,261.7 277.8,264.6 278.7,267.4 279.7,270.1 280.6,272.6 281.5,275 282.5,277.1 283.4,279.2 284.4,281.1 285.3,282.8 286.3,284.4 287.2,285.8 288.1,287.2 289.1,288.4 290,289.5 291,290.5 291.9,291.5 292.9,292.3 293.8,293 294.7,293.7 295.7,294.3 296.6,294.9 297.6,295.4 298.5,295.9 299.5,296.3 300.4,296.7 301.3,297 302.3,297.4 303.2,297.7 304.2,297.9 305.1,298.2 306.1,298.4 307,298.6 307.9,298.8 308.9,299 309.8,299.2 310.8,299.4 311.7,299.5 312.6,299.7 313.6,299.8 314.5,300 315.5,300.1 316.4,300.2 317.4,300.3 318.3,300.4 319.2,300.5 320.2,300.6 321.1,300.7 322.1,300.8 323,300.9 324,301 324.9,301.1 325.8,301.2 326.8,301.2 327.7,301.3 328.7,301.4 329.6,301.4 330.6,301.5 331.5,301.6 332.4,301.6 333.4,301.7 334.3,301.7 335.3,301.8 336.2,301.9 337.1,301.9 338.1,301.9 339,302 340,302 340.9,302.1 341.9,302.1 342.8,302.2 343.7,302.2 344.7,302.2 345.6,302.3 346.6,302.3 347.5,302.4 348.5,302.4 349.4,302.4 350.3,302.5 351.3,302.5 352.2,302.5 353.2,302.5 354.1,302.6 355.1,302.6 356,302.6 356.9,302.6 357.9,302.7 358.8,302.7 359.8,302.7 360.7,302.7 361.6,302.8 362.6,302.8 363.5,302.8 364.5,302.8 365.4,302.9 366.4,302.9 367.3,302.9 368.2,302.9 369.2,302.9 370.1,302.9 371.1,303 372,303 373,303 373.9,303 374.8,303 375.8,303 376.7,303.1 377.7,303.1 378.6,303.1 379.6,303.1 380.5,303.1 381.4,303.1 382.4,303.1 383.3,303.2 384.3,303.2 385.2,303.2 386.2,303.2 387.1,303.2 388,303.2 389,303.2 389.9,303.2 390.9,303.2 391.8,303.3 392.7,303.3 393.7,303.3 394.6,303.3 395.6,303.3 396.5,303.3 397.5,303.3 398.4,303.3 399.3,303.3 400.3,303.3 401.2,303.4 402.2,303.4 403.1,303.4 404.1,303.4 405,303.4 405.9,303.4 406.9,303.4 407.8,303.4 408.8,303.4 409.7,303.4 410.7,303.4 411.6,303.4 412.5,303.4 413.5,303.4 414.4,303.5 415.4,303.5 416.3,303.5 417.2,303.5 418.2,303.5 419.1,303.5 420.1,303.5 421,303.5 422,303.5 422.9,303.5 423.8,303.5 424.8,303.5 425.7,303.5 426.7,303.5 427.6,303.5 428.6,303.5 429.5,303.5 430.4,303.6 431.4,303.6 432.3,303.6 433.3,303.6 434.2,303.6 435.2,303.6 436.1,303.6 437,303.6 438,303.6 438.9,303.6 439.9,303.6 440.8,303.6 441.7,303.6 442.7,303.6 443.6,303.6 444.6,303.6 445.5,303.6 446.5,303.6 447.4,303.6 448.3,303.6 449.3,303.6 450.2,303.6 451.2,303.6 452.1,303.6 453.1,303.7 454,303.7"/>
</g>
<line x1="227.8" y1="71.5" x2="258.8" y2="209" stroke="#d9272e" stroke-width="2.4" stroke-dasharray="4.8 3.2"/>
<g stroke="#2e57a7" fill="#2e57a7"><line x1="228.4" y1="50.5" x2="228.4" y2="62" stroke-width="2.3"/><path d="M225.2 58.2 L231.6 58.2 L228.4 69.5 Z" stroke="none"/>
<line x1="259" y1="264.5" x2="259" y2="219" stroke-width="1.8"/><path d="M255.8 222.3 L262.2 222.3 L259 211 Z" stroke="none"/></g>
<rect x="77.8" y="24.6" width="376.6" height="301.4" fill="none" stroke="#151515" stroke-width="2.4"/>
<path d="M78 326.0 v-6 M125 326.0 v-3.2 M172 326.0 v-6 M219 326.0 v-3.2 M266 326.0 v-6 M313 326.0 v-3.2 M360 326.0 v-6 M407 326.0 v-3.2 M454 326.0 v-6" stroke="#111" stroke-width="1.9" fill="none"/>
<text x="78" y="350" font-size="23" text-anchor="middle" fill="#231f20">288</text>
<text x="172" y="350" font-size="23" text-anchor="middle" fill="#231f20">286</text>
<text x="266" y="350" font-size="23" text-anchor="middle" fill="#231f20">284</text>
<text x="360" y="350" font-size="23" text-anchor="middle" fill="#231f20">282</text>
<text x="454" y="350" font-size="23" text-anchor="middle" fill="#231f20">280</text>
<text x="266" y="379.5" font-size="23" text-anchor="middle" fill="#231f20" letter-spacing="0.2">Binding energy/eV</text>
<text x="266.5" y="412" font-size="23" text-anchor="middle" fill="#231f20">(a)</text>
<text x="62" y="173" font-size="23" text-anchor="middle" fill="#231f20" transform="rotate(-90 62 173)">Intensity/a.u.</text>
<text x="92" y="49" font-size="23" text-anchor="start" fill="#231f20">C 1s</text>
<text x="229" y="47" font-size="23" text-anchor="middle" fill="#231f20">284.8</text>
<text x="254" y="294" font-size="23" text-anchor="middle" fill="#231f20">284.1</text>
<text x="423.5" y="155.7" font-size="16.6" text-anchor="middle" fill="#231f20">1#</text>
<text x="423.5" y="202.7" font-size="16.6" text-anchor="middle" fill="#231f20">2#</text>
<text x="423.5" y="249.2" font-size="16.6" text-anchor="middle" fill="#231f20">3#</text>
<text x="423.5" y="296" font-size="16.6" text-anchor="middle" fill="#231f20">4#</text>
</g>
<g id="pb">
<g fill="none" stroke="#f37b2b">
<g stroke-width="1.0" opacity="0.85"><circle cx="606.7" cy="128.4" r="2.9"/><circle cx="608.5" cy="128.3" r="2.9"/><circle cx="610.1" cy="127.3" r="2.9"/><circle cx="612.2" cy="126.6" r="2.9"/><circle cx="614.1" cy="126.2" r="2.9"/><circle cx="616.2" cy="125.4" r="2.9"/><circle cx="618.2" cy="125.9" r="2.9"/><circle cx="619.5" cy="126.6" r="2.9"/><circle cx="621.2" cy="124.2" r="2.9"/><circle cx="623.2" cy="123.5" r="2.9"/><circle cx="624.9" cy="123.6" r="2.9"/><circle cx="626.7" cy="123.1" r="2.9"/><circle cx="628.6" cy="122.2" r="2.9"/><circle cx="630.1" cy="120.5" r="2.9"/><circle cx="632.3" cy="120.6" r="2.9"/><circle cx="633.8" cy="119.8" r="2.9"/><circle cx="635.6" cy="118" r="2.9"/><circle cx="637.1" cy="118.2" r="2.9"/><circle cx="638.6" cy="115.8" r="2.9"/><circle cx="640.1" cy="115.7" r="2.9"/><circle cx="641.7" cy="113.7" r="2.9"/><circle cx="643" cy="112.7" r="2.9"/><circle cx="644.5" cy="110.6" r="2.9"/><circle cx="645.7" cy="110.3" r="2.9"/><circle cx="646.5" cy="108.6" r="2.9"/><circle cx="648" cy="107.2" r="2.9"/><circle cx="648.8" cy="103.5" r="2.9"/><circle cx="650" cy="103.6" r="2.9"/><circle cx="651.1" cy="102.7" r="2.9"/><circle cx="651.5" cy="101.5" r="2.9"/><circle cx="653" cy="98.5" r="2.9"/><circle cx="653.9" cy="98.1" r="2.9"/><circle cx="654.6" cy="95.6" r="2.9"/><circle cx="655.4" cy="93.8" r="2.9"/><circle cx="656.1" cy="93.2" r="2.9"/><circle cx="656.7" cy="89.9" r="2.9"/><circle cx="657.5" cy="89.1" r="2.9"/><circle cx="658.1" cy="88.5" r="2.9"/><circle cx="658.9" cy="86" r="2.9"/><circle cx="659.3" cy="84.3" r="2.9"/><circle cx="660.3" cy="82.5" r="2.9"/><circle cx="661" cy="80.4" r="2.9"/><circle cx="661.7" cy="77.4" r="2.9"/><circle cx="662.4" cy="76.7" r="2.9"/><circle cx="663.4" cy="76.4" r="2.9"/><circle cx="663.8" cy="72.5" r="2.9"/><circle cx="665.6" cy="73.2" r="2.9"/><circle cx="667.1" cy="71.3" r="2.9"/><circle cx="668.9" cy="70" r="2.9"/><circle cx="670.6" cy="73.4" r="2.9"/><circle cx="671.9" cy="73.6" r="2.9"/><circle cx="673.4" cy="73.4" r="2.9"/><circle cx="674.8" cy="76" r="2.9"/><circle cx="675.9" cy="77.3" r="2.9"/><circle cx="676.7" cy="78.2" r="2.9"/><circle cx="677" cy="80.9" r="2.9"/><circle cx="678.2" cy="82.1" r="2.9"/><circle cx="678.9" cy="84.7" r="2.9"/><circle cx="679.5" cy="87.1" r="2.9"/><circle cx="679.9" cy="86.9" r="2.9"/><circle cx="680.1" cy="89.2" r="2.9"/><circle cx="681.2" cy="90.4" r="2.9"/><circle cx="681.5" cy="92.6" r="2.9"/><circle cx="681.4" cy="93.5" r="2.9"/><circle cx="682.6" cy="96.1" r="2.9"/><circle cx="682.6" cy="98.4" r="2.9"/><circle cx="683.1" cy="101.8" r="2.9"/><circle cx="683.7" cy="103.6" r="2.9"/><circle cx="684.7" cy="103.3" r="2.9"/><circle cx="684.7" cy="105.5" r="2.9"/><circle cx="685.4" cy="108.2" r="2.9"/><circle cx="686.3" cy="107.6" r="2.9"/><circle cx="686.9" cy="111" r="2.9"/><circle cx="687" cy="113.6" r="2.9"/><circle cx="687.6" cy="116.5" r="2.9"/><circle cx="687.9" cy="118" r="2.9"/><circle cx="688.7" cy="118.5" r="2.9"/><circle cx="689.6" cy="119.9" r="2.9"/><circle cx="690.3" cy="121.5" r="2.9"/><circle cx="690.9" cy="124.5" r="2.9"/><circle cx="692" cy="125.1" r="2.9"/><circle cx="692.6" cy="126.5" r="2.9"/><circle cx="693.9" cy="129.3" r="2.9"/><circle cx="695.3" cy="131" r="2.9"/><circle cx="697" cy="131.3" r="2.9"/><circle cx="699" cy="130.8" r="2.9"/><circle cx="700.7" cy="131.7" r="2.9"/><circle cx="702.1" cy="129.9" r="2.9"/><circle cx="703.4" cy="129.6" r="2.9"/><circle cx="704.1" cy="127.1" r="2.9"/><circle cx="704.9" cy="124.4" r="2.9"/><circle cx="706.5" cy="123.8" r="2.9"/><circle cx="707.3" cy="121.7" r="2.9"/><circle cx="708.5" cy="121.4" r="2.9"/><circle cx="709" cy="118.7" r="2.9"/><circle cx="710.4" cy="117.1" r="2.9"/><circle cx="711.3" cy="113.7" r="2.9"/><circle cx="712.2" cy="113.7" r="2.9"/><circle cx="712.9" cy="110.6" r="2.9"/><circle cx="714.5" cy="109" r="2.9"/><circle cx="715.9" cy="108.8" r="2.9"/><circle cx="717.1" cy="106.9" r="2.9"/><circle cx="718.2" cy="106.5" r="2.9"/><circle cx="719.7" cy="106.8" r="2.9"/><circle cx="721.4" cy="103.2" r="2.9"/><circle cx="722.2" cy="103" r="2.9"/><circle cx="724.7" cy="103.8" r="2.9"/><circle cx="726.7" cy="104.6" r="2.9"/><circle cx="728.4" cy="104.3" r="2.9"/><circle cx="730.3" cy="104.9" r="2.9"/><circle cx="731.8" cy="106" r="2.9"/><circle cx="733.2" cy="106.5" r="2.9"/><circle cx="734.7" cy="106.9" r="2.9"/><circle cx="736.3" cy="109" r="2.9"/><circle cx="737.4" cy="110.9" r="2.9"/><circle cx="738.9" cy="111.1" r="2.9"/><circle cx="740.6" cy="113.2" r="2.9"/><circle cx="742.3" cy="113.1" r="2.9"/><circle cx="743.2" cy="116.1" r="2.9"/><circle cx="744.7" cy="117.7" r="2.9"/><circle cx="746.2" cy="118.9" r="2.9"/><circle cx="748" cy="119.5" r="2.9"/><circle cx="749.2" cy="120.5" r="2.9"/><circle cx="751.2" cy="119.4" r="2.9"/><circle cx="752.3" cy="120.9" r="2.9"/><circle cx="754.1" cy="123" r="2.9"/><circle cx="755.8" cy="122.1" r="2.9"/><circle cx="757.8" cy="125.1" r="2.9"/><circle cx="759.6" cy="123.9" r="2.9"/><circle cx="760.8" cy="127.2" r="2.9"/><circle cx="762.8" cy="126.7" r="2.9"/><circle cx="764.9" cy="128.7" r="2.9"/><circle cx="766.5" cy="128.5" r="2.9"/><circle cx="768.1" cy="127.2" r="2.9"/><circle cx="770.6" cy="129.5" r="2.9"/><circle cx="772.4" cy="129.7" r="2.9"/><circle cx="774.2" cy="127.4" r="2.9"/><circle cx="775.6" cy="126" r="2.9"/><circle cx="777.5" cy="125.2" r="2.9"/><circle cx="778.7" cy="123.4" r="2.9"/><circle cx="780.6" cy="124.5" r="2.9"/><circle cx="781.7" cy="122.6" r="2.9"/><circle cx="783.2" cy="121.3" r="2.9"/><circle cx="785" cy="119.3" r="2.9"/><circle cx="786.2" cy="118.3" r="2.9"/><circle cx="788.1" cy="116.5" r="2.9"/><circle cx="789.7" cy="118" r="2.9"/><circle cx="791.1" cy="116.5" r="2.9"/><circle cx="793.1" cy="116.6" r="2.9"/><circle cx="794.7" cy="114.7" r="2.9"/><circle cx="796.8" cy="113.3" r="2.9"/><circle cx="798.3" cy="113.1" r="2.9"/><circle cx="800.2" cy="112.8" r="2.9"/><circle cx="802.5" cy="113.4" r="2.9"/><circle cx="804.5" cy="114.4" r="2.9"/><circle cx="806.2" cy="115.2" r="2.9"/><circle cx="807.4" cy="115.3" r="2.9"/><circle cx="809.3" cy="116.7" r="2.9"/><circle cx="811.5" cy="118.5" r="2.9"/><circle cx="813" cy="116" r="2.9"/><circle cx="814.6" cy="115.9" r="2.9"/><circle cx="816.8" cy="117" r="2.9"/><circle cx="818.8" cy="118.2" r="2.9"/><circle cx="820.4" cy="115.9" r="2.9"/><circle cx="822.1" cy="116.5" r="2.9"/><circle cx="824" cy="116.1" r="2.9"/><circle cx="826.4" cy="115" r="2.9"/><circle cx="827.9" cy="118" r="2.9"/><circle cx="829.9" cy="117.5" r="2.9"/><circle cx="831.8" cy="118.7" r="2.9"/><circle cx="833.7" cy="118.7" r="2.9"/><circle cx="835.3" cy="119.8" r="2.9"/><circle cx="837.3" cy="119.7" r="2.9"/><circle cx="838.8" cy="120.3" r="2.9"/><circle cx="840.7" cy="120" r="2.9"/><circle cx="842.3" cy="120.7" r="2.9"/><circle cx="844.6" cy="123.6" r="2.9"/><circle cx="846" cy="122.9" r="2.9"/><circle cx="847.5" cy="124.2" r="2.9"/><circle cx="849.3" cy="124.6" r="2.9"/><circle cx="851" cy="125.3" r="2.9"/><circle cx="852.9" cy="126.4" r="2.9"/><circle cx="854" cy="128.1" r="2.9"/><circle cx="855.9" cy="128.6" r="2.9"/><circle cx="857.7" cy="129.5" r="2.9"/><circle cx="860" cy="130.1" r="2.9"/><circle cx="861.3" cy="132.7" r="2.9"/><circle cx="862.6" cy="133.2" r="2.9"/><circle cx="864.3" cy="134.6" r="2.9"/><circle cx="866.2" cy="134.9" r="2.9"/><circle cx="867.2" cy="135.3" r="2.9"/><circle cx="868.6" cy="138.5" r="2.9"/><circle cx="870.5" cy="139.1" r="2.9"/><circle cx="871.7" cy="139.8" r="2.9"/><circle cx="873.2" cy="141.5" r="2.9"/><circle cx="874.2" cy="143.3" r="2.9"/><circle cx="876.2" cy="144.8" r="2.9"/><circle cx="877.5" cy="145.8" r="2.9"/><circle cx="878.7" cy="145.9" r="2.9"/><circle cx="880.1" cy="148.7" r="2.9"/><circle cx="880.9" cy="147.8" r="2.9"/><circle cx="883" cy="150.8" r="2.9"/><circle cx="884.3" cy="151.7" r="2.9"/><circle cx="886.1" cy="152.6" r="2.9"/><circle cx="887.8" cy="154.3" r="2.9"/><circle cx="889.2" cy="154.9" r="2.9"/><circle cx="890.6" cy="153.1" r="2.9"/><circle cx="892.8" cy="153.8" r="2.9"/><circle cx="894.3" cy="156.6" r="2.9"/><circle cx="896.3" cy="155.5" r="2.9"/><circle cx="898" cy="157.1" r="2.9"/><circle cx="899.9" cy="158" r="2.9"/><circle cx="901.3" cy="155.5" r="2.9"/><circle cx="904.1" cy="155.6" r="2.9"/><circle cx="905.8" cy="157.8" r="2.9"/><circle cx="907.9" cy="157.8" r="2.9"/><circle cx="910" cy="157.8" r="2.9"/><circle cx="911.4" cy="157.8" r="2.9"/><circle cx="912.9" cy="157.6" r="2.9"/><circle cx="915" cy="157.3" r="2.9"/><circle cx="916.8" cy="157.7" r="2.9"/><circle cx="918.9" cy="157.2" r="2.9"/><circle cx="920.9" cy="157.1" r="2.9"/><circle cx="922.3" cy="158" r="2.9"/><circle cx="924.8" cy="158" r="2.9"/><circle cx="926.2" cy="158.4" r="2.9"/><circle cx="928.6" cy="157.6" r="2.9"/><circle cx="930.4" cy="157.8" r="2.9"/><circle cx="932.2" cy="157.9" r="2.9"/><circle cx="934.2" cy="157.8" r="2.9"/><circle cx="936" cy="158" r="2.9"/><circle cx="937.9" cy="157.5" r="2.9"/><circle cx="939.5" cy="157.6" r="2.9"/><circle cx="941.8" cy="157.8" r="2.9"/><circle cx="944.2" cy="158.7" r="2.9"/><circle cx="946.1" cy="157.4" r="2.9"/><circle cx="947.9" cy="158.3" r="2.9"/><circle cx="949.6" cy="157.8" r="2.9"/><circle cx="951.2" cy="157.8" r="2.9"/><circle cx="953.6" cy="157.1" r="2.9"/><circle cx="955.1" cy="157.7" r="2.9"/><circle cx="957" cy="158.1" r="2.9"/><circle cx="958.9" cy="157.7" r="2.9"/><circle cx="960.8" cy="158" r="2.9"/><circle cx="962.6" cy="157.7" r="2.9"/><circle cx="964.6" cy="158.2" r="2.9"/><circle cx="966.3" cy="157.6" r="2.9"/><circle cx="968.3" cy="157" r="2.9"/><circle cx="970.9" cy="157.7" r="2.9"/><circle cx="972.2" cy="157.3" r="2.9"/><circle cx="974.1" cy="156.9" r="2.9"/><circle cx="976.2" cy="157.5" r="2.9"/><circle cx="978.1" cy="158.1" r="2.9"/><circle cx="979.5" cy="157.7" r="2.9"/><circle cx="981.7" cy="157.3" r="2.9"/></g>
<polyline stroke-width="1.3" opacity="0.9" points="606.7,128.4 608.5,128.3 610.1,127.3 612.2,126.6 614.1,126.2 616.2,125.4 618.2,125.9 619.5,126.6 621.2,124.2 623.2,123.5 624.9,123.6 626.7,123.1 628.6,122.2 630.1,120.5 632.3,120.6 633.8,119.8 635.6,118 637.1,118.2 638.6,115.8 640.1,115.7 641.7,113.7 643,112.7 644.5,110.6 645.7,110.3 646.5,108.6 648,107.2 648.8,103.5 650,103.6 651.1,102.7 651.5,101.5 653,98.5 653.9,98.1 654.6,95.6 655.4,93.8 656.1,93.2 656.7,89.9 657.5,89.1 658.1,88.5 658.9,86 659.3,84.3 660.3,82.5 661,80.4 661.7,77.4 662.4,76.7 663.4,76.4 663.8,72.5 665.6,73.2 667.1,71.3 668.9,70 670.6,73.4 671.9,73.6 673.4,73.4 674.8,76 675.9,77.3 676.7,78.2 677,80.9 678.2,82.1 678.9,84.7 679.5,87.1 679.9,86.9 680.1,89.2 681.2,90.4 681.5,92.6 681.4,93.5 682.6,96.1 682.6,98.4 683.1,101.8 683.7,103.6 684.7,103.3 684.7,105.5 685.4,108.2 686.3,107.6 686.9,111 687,113.6 687.6,116.5 687.9,118 688.7,118.5 689.6,119.9 690.3,121.5 690.9,124.5 692,125.1 692.6,126.5 693.9,129.3 695.3,131 697,131.3 699,130.8 700.7,131.7 702.1,129.9 703.4,129.6 704.1,127.1 704.9,124.4 706.5,123.8 707.3,121.7 708.5,121.4 709,118.7 710.4,117.1 711.3,113.7 712.2,113.7 712.9,110.6 714.5,109 715.9,108.8 717.1,106.9 718.2,106.5 719.7,106.8 721.4,103.2 722.2,103 724.7,103.8 726.7,104.6 728.4,104.3 730.3,104.9 731.8,106 733.2,106.5 734.7,106.9 736.3,109 737.4,110.9 738.9,111.1 740.6,113.2 742.3,113.1 743.2,116.1 744.7,117.7 746.2,118.9 748,119.5 749.2,120.5 751.2,119.4 752.3,120.9 754.1,123 755.8,122.1 757.8,125.1 759.6,123.9 760.8,127.2 762.8,126.7 764.9,128.7 766.5,128.5 768.1,127.2 770.6,129.5 772.4,129.7 774.2,127.4 775.6,126 777.5,125.2 778.7,123.4 780.6,124.5 781.7,122.6 783.2,121.3 785,119.3 786.2,118.3 788.1,116.5 789.7,118 791.1,116.5 793.1,116.6 794.7,114.7 796.8,113.3 798.3,113.1 800.2,112.8 802.5,113.4 804.5,114.4 806.2,115.2 807.4,115.3 809.3,116.7 811.5,118.5 813,116 814.6,115.9 816.8,117 818.8,118.2 820.4,115.9 822.1,116.5 824,116.1 826.4,115 827.9,118 829.9,117.5 831.8,118.7 833.7,118.7 835.3,119.8 837.3,119.7 838.8,120.3 840.7,120 842.3,120.7 844.6,123.6 846,122.9 847.5,124.2 849.3,124.6 851,125.3 852.9,126.4 854,128.1 855.9,128.6 857.7,129.5 860,130.1 861.3,132.7 862.6,133.2 864.3,134.6 866.2,134.9 867.2,135.3 868.6,138.5 870.5,139.1 871.7,139.8 873.2,141.5 874.2,143.3 876.2,144.8 877.5,145.8 878.7,145.9 880.1,148.7 880.9,147.8 883,150.8 884.3,151.7 886.1,152.6 887.8,154.3 889.2,154.9 890.6,153.1 892.8,153.8 894.3,156.6 896.3,155.5 898,157.1 899.9,158 901.3,155.5 904.1,155.6 905.8,157.8 907.9,157.8 910,157.8 911.4,157.8 912.9,157.6 915,157.3 916.8,157.7 918.9,157.2 920.9,157.1 922.3,158 924.8,158 926.2,158.4 928.6,157.6 930.4,157.8 932.2,157.9 934.2,157.8 936,158 937.9,157.5 939.5,157.6 941.8,157.8 944.2,158.7 946.1,157.4 947.9,158.3 949.6,157.8 951.2,157.8 953.6,157.1 955.1,157.7 957,158.1 958.9,157.7 960.8,158 962.6,157.7 964.6,158.2 966.3,157.6 968.3,157 970.9,157.7 972.2,157.3 974.1,156.9 976.2,157.5 978.1,158.1 979.5,157.7 981.7,157.3"/>
</g>
<g fill="none" stroke="#2f5bbd">
<g stroke-width="1.0" opacity="0.85"><circle cx="606.9" cy="169.7" r="2.9"/><circle cx="608.8" cy="168.2" r="2.9"/><circle cx="610.4" cy="167" r="2.9"/><circle cx="611.9" cy="167.6" r="2.9"/><circle cx="613.7" cy="165.8" r="2.9"/><circle cx="615.7" cy="165.7" r="2.9"/><circle cx="617.5" cy="165.1" r="2.9"/><circle cx="619.4" cy="166" r="2.9"/><circle cx="620.8" cy="161.9" r="2.9"/><circle cx="622.7" cy="162.3" r="2.9"/><circle cx="624.5" cy="161.3" r="2.9"/><circle cx="625.8" cy="161.8" r="2.9"/><circle cx="627" cy="161.2" r="2.9"/><circle cx="628.7" cy="160.9" r="2.9"/><circle cx="630.2" cy="157.4" r="2.9"/><circle cx="632.5" cy="157.9" r="2.9"/><circle cx="633.4" cy="155.6" r="2.9"/><circle cx="635.5" cy="154" r="2.9"/><circle cx="636.7" cy="154" r="2.9"/><circle cx="638.4" cy="151.7" r="2.9"/><circle cx="639.6" cy="149.6" r="2.9"/><circle cx="640.5" cy="149.2" r="2.9"/><circle cx="641.7" cy="146.5" r="2.9"/><circle cx="642.7" cy="145.8" r="2.9"/><circle cx="643.7" cy="144.5" r="2.9"/><circle cx="644.4" cy="143.1" r="2.9"/><circle cx="645.3" cy="142.5" r="2.9"/><circle cx="646.6" cy="138.7" r="2.9"/><circle cx="646.6" cy="135.9" r="2.9"/><circle cx="647.8" cy="135.7" r="2.9"/><circle cx="648.4" cy="134.2" r="2.9"/><circle cx="649.4" cy="132.3" r="2.9"/><circle cx="650.4" cy="131.7" r="2.9"/><circle cx="650.9" cy="128.3" r="2.9"/><circle cx="651.8" cy="125.4" r="2.9"/><circle cx="651.9" cy="125.9" r="2.9"/><circle cx="653.3" cy="123.5" r="2.9"/><circle cx="653.7" cy="122.5" r="2.9"/><circle cx="654.8" cy="120.6" r="2.9"/><circle cx="655.5" cy="119.4" r="2.9"/><circle cx="655.7" cy="117.1" r="2.9"/><circle cx="657.3" cy="116" r="2.9"/><circle cx="659.2" cy="114" r="2.9"/><circle cx="661.4" cy="113.3" r="2.9"/><circle cx="662.8" cy="114.5" r="2.9"/><circle cx="664.3" cy="114.3" r="2.9"/><circle cx="665.1" cy="117.1" r="2.9"/><circle cx="666.9" cy="119.7" r="2.9"/><circle cx="667.9" cy="121.8" r="2.9"/><circle cx="668.3" cy="122" r="2.9"/><circle cx="669" cy="126.4" r="2.9"/><circle cx="669.4" cy="126.7" r="2.9"/><circle cx="670.7" cy="126.9" r="2.9"/><circle cx="671.8" cy="128.3" r="2.9"/><circle cx="671.9" cy="131.1" r="2.9"/><circle cx="672.7" cy="132.3" r="2.9"/><circle cx="673.1" cy="134.1" r="2.9"/><circle cx="673.4" cy="136.3" r="2.9"/><circle cx="674.6" cy="137.2" r="2.9"/><circle cx="674.5" cy="140.3" r="2.9"/><circle cx="675.4" cy="140.6" r="2.9"/><circle cx="676" cy="143.7" r="2.9"/><circle cx="676.8" cy="146.7" r="2.9"/><circle cx="677.2" cy="149.9" r="2.9"/><circle cx="677.8" cy="149" r="2.9"/><circle cx="678.1" cy="150.7" r="2.9"/><circle cx="678.6" cy="152.1" r="2.9"/><circle cx="679.5" cy="155.1" r="2.9"/><circle cx="680" cy="155" r="2.9"/><circle cx="680.6" cy="157.9" r="2.9"/><circle cx="681.4" cy="159.8" r="2.9"/><circle cx="682.3" cy="160.8" r="2.9"/><circle cx="682.7" cy="162.7" r="2.9"/><circle cx="683.7" cy="164.9" r="2.9"/><circle cx="684.5" cy="165.2" r="2.9"/><circle cx="685.9" cy="168.1" r="2.9"/><circle cx="687" cy="170.9" r="2.9"/><circle cx="688.7" cy="172.3" r="2.9"/><circle cx="689.2" cy="173.6" r="2.9"/><circle cx="691" cy="173.5" r="2.9"/><circle cx="693.1" cy="175" r="2.9"/><circle cx="694.6" cy="177" r="2.9"/><circle cx="696.5" cy="176.6" r="2.9"/><circle cx="698.3" cy="174" r="2.9"/><circle cx="698.9" cy="171.5" r="2.9"/><circle cx="699.7" cy="171" r="2.9"/><circle cx="700.4" cy="168.5" r="2.9"/><circle cx="701.6" cy="166.3" r="2.9"/><circle cx="702.3" cy="164.8" r="2.9"/><circle cx="702.7" cy="164.8" r="2.9"/><circle cx="703.6" cy="161.9" r="2.9"/><circle cx="704.8" cy="160.8" r="2.9"/><circle cx="705.7" cy="157.8" r="2.9"/><circle cx="706.2" cy="157.8" r="2.9"/><circle cx="707.4" cy="154.9" r="2.9"/><circle cx="708.4" cy="154" r="2.9"/><circle cx="708.8" cy="154.8" r="2.9"/><circle cx="710.3" cy="151.6" r="2.9"/><circle cx="711.6" cy="148.9" r="2.9"/><circle cx="712.7" cy="147.7" r="2.9"/><circle cx="714" cy="147.2" r="2.9"/><circle cx="716.2" cy="147" r="2.9"/><circle cx="718.3" cy="145.8" r="2.9"/><circle cx="720.4" cy="145.3" r="2.9"/><circle cx="721.2" cy="147" r="2.9"/><circle cx="723.9" cy="148.5" r="2.9"/><circle cx="724.4" cy="149.4" r="2.9"/><circle cx="726.2" cy="151.8" r="2.9"/><circle cx="727.7" cy="152.2" r="2.9"/><circle cx="729.2" cy="154.1" r="2.9"/><circle cx="730.5" cy="153.5" r="2.9"/><circle cx="731.8" cy="155.7" r="2.9"/><circle cx="733.7" cy="157.9" r="2.9"/><circle cx="734.8" cy="157.3" r="2.9"/><circle cx="735.6" cy="158.4" r="2.9"/><circle cx="738.2" cy="160.6" r="2.9"/><circle cx="739" cy="163.7" r="2.9"/><circle cx="740.8" cy="162.7" r="2.9"/><circle cx="741.7" cy="164.3" r="2.9"/><circle cx="743.9" cy="165.9" r="2.9"/><circle cx="745.6" cy="166.9" r="2.9"/><circle cx="747.3" cy="167.1" r="2.9"/><circle cx="748.7" cy="169" r="2.9"/><circle cx="750.1" cy="169.5" r="2.9"/><circle cx="752" cy="170.9" r="2.9"/><circle cx="753.3" cy="171.5" r="2.9"/><circle cx="755.1" cy="171.2" r="2.9"/><circle cx="757.3" cy="172.5" r="2.9"/><circle cx="758.9" cy="173.4" r="2.9"/><circle cx="760.8" cy="172.2" r="2.9"/><circle cx="762.6" cy="173.4" r="2.9"/><circle cx="765" cy="173.8" r="2.9"/><circle cx="766.5" cy="171.6" r="2.9"/><circle cx="767.6" cy="171.7" r="2.9"/><circle cx="769.4" cy="170" r="2.9"/><circle cx="770.1" cy="170.4" r="2.9"/><circle cx="771.4" cy="169.9" r="2.9"/><circle cx="773" cy="168.2" r="2.9"/><circle cx="773.9" cy="164.6" r="2.9"/><circle cx="775.7" cy="164.8" r="2.9"/><circle cx="777.1" cy="163.2" r="2.9"/><circle cx="779.1" cy="162.2" r="2.9"/><circle cx="781.2" cy="162.1" r="2.9"/><circle cx="782.4" cy="158.4" r="2.9"/><circle cx="784.4" cy="160.1" r="2.9"/><circle cx="786" cy="158.8" r="2.9"/><circle cx="787.7" cy="159.6" r="2.9"/><circle cx="789.5" cy="158.2" r="2.9"/><circle cx="792.1" cy="157" r="2.9"/><circle cx="794.2" cy="157.8" r="2.9"/><circle cx="795.6" cy="158.6" r="2.9"/><circle cx="797.1" cy="158.6" r="2.9"/><circle cx="799.2" cy="159.4" r="2.9"/><circle cx="800.6" cy="159" r="2.9"/><circle cx="802.5" cy="159.1" r="2.9"/><circle cx="804.1" cy="162" r="2.9"/><circle cx="805.8" cy="163.2" r="2.9"/><circle cx="807.4" cy="164.1" r="2.9"/><circle cx="808.8" cy="164.5" r="2.9"/><circle cx="810.6" cy="166.4" r="2.9"/><circle cx="812.1" cy="165.3" r="2.9"/><circle cx="814.3" cy="164.6" r="2.9"/><circle cx="815.8" cy="164.5" r="2.9"/><circle cx="817.9" cy="164.7" r="2.9"/><circle cx="819.6" cy="162.1" r="2.9"/><circle cx="821.7" cy="164.1" r="2.9"/><circle cx="823.7" cy="162.5" r="2.9"/><circle cx="825.1" cy="162.8" r="2.9"/><circle cx="827.2" cy="165.2" r="2.9"/><circle cx="829" cy="164.7" r="2.9"/><circle cx="831.3" cy="164" r="2.9"/><circle cx="833.3" cy="165.7" r="2.9"/><circle cx="834.8" cy="167.8" r="2.9"/><circle cx="836.1" cy="169.2" r="2.9"/><circle cx="838.1" cy="169.3" r="2.9"/><circle cx="838.9" cy="170.8" r="2.9"/><circle cx="841.3" cy="171.8" r="2.9"/><circle cx="842.3" cy="171.5" r="2.9"/><circle cx="843.4" cy="172.8" r="2.9"/><circle cx="846.3" cy="173.6" r="2.9"/><circle cx="847.6" cy="174.1" r="2.9"/><circle cx="848.7" cy="174.6" r="2.9"/><circle cx="850.8" cy="175.5" r="2.9"/><circle cx="852.6" cy="175.5" r="2.9"/><circle cx="854.6" cy="175.2" r="2.9"/><circle cx="856.1" cy="175.8" r="2.9"/><circle cx="858.2" cy="178.1" r="2.9"/><circle cx="860.2" cy="178.2" r="2.9"/><circle cx="861.6" cy="179.9" r="2.9"/><circle cx="863.2" cy="181.2" r="2.9"/><circle cx="864.2" cy="181.9" r="2.9"/><circle cx="866" cy="184.7" r="2.9"/><circle cx="866.6" cy="183.6" r="2.9"/><circle cx="868.1" cy="187" r="2.9"/><circle cx="868.9" cy="187.4" r="2.9"/><circle cx="870.4" cy="190.2" r="2.9"/><circle cx="872.5" cy="190.9" r="2.9"/><circle cx="873.6" cy="188" r="2.9"/><circle cx="875.6" cy="189.4" r="2.9"/><circle cx="877.2" cy="192.3" r="2.9"/><circle cx="878.7" cy="193.5" r="2.9"/><circle cx="880.6" cy="194.1" r="2.9"/><circle cx="882.4" cy="194.6" r="2.9"/><circle cx="884.1" cy="195.7" r="2.9"/><circle cx="886.2" cy="196.3" r="2.9"/><circle cx="888" cy="196.5" r="2.9"/><circle cx="889.5" cy="197.8" r="2.9"/><circle cx="891.3" cy="195.3" r="2.9"/><circle cx="893.4" cy="198.5" r="2.9"/><circle cx="895.1" cy="198.1" r="2.9"/><circle cx="897.2" cy="200.6" r="2.9"/><circle cx="899.5" cy="200.2" r="2.9"/><circle cx="901" cy="200.1" r="2.9"/><circle cx="902.6" cy="201.2" r="2.9"/><circle cx="904.5" cy="199.6" r="2.9"/><circle cx="906.2" cy="199.8" r="2.9"/><circle cx="908.1" cy="199.5" r="2.9"/><circle cx="910" cy="200" r="2.9"/><circle cx="912" cy="200.5" r="2.9"/><circle cx="913.9" cy="200.6" r="2.9"/><circle cx="916.1" cy="200.1" r="2.9"/><circle cx="917.7" cy="200.7" r="2.9"/><circle cx="919.7" cy="200.3" r="2.9"/><circle cx="921.3" cy="200.3" r="2.9"/><circle cx="923.9" cy="200.8" r="2.9"/><circle cx="925.5" cy="200.9" r="2.9"/><circle cx="927.8" cy="200.4" r="2.9"/><circle cx="929.4" cy="200.1" r="2.9"/><circle cx="931.5" cy="199.9" r="2.9"/><circle cx="933" cy="199.9" r="2.9"/><circle cx="935.1" cy="199.3" r="2.9"/><circle cx="937.5" cy="200.4" r="2.9"/><circle cx="938.4" cy="200" r="2.9"/><circle cx="940.9" cy="200.4" r="2.9"/><circle cx="942.9" cy="199.9" r="2.9"/><circle cx="944.5" cy="200.5" r="2.9"/><circle cx="946.5" cy="200.3" r="2.9"/><circle cx="948.5" cy="200" r="2.9"/><circle cx="949.9" cy="201" r="2.9"/><circle cx="952.1" cy="200.2" r="2.9"/><circle cx="953.7" cy="200.7" r="2.9"/><circle cx="955.6" cy="200.7" r="2.9"/><circle cx="957.6" cy="199.9" r="2.9"/><circle cx="959.6" cy="199.9" r="2.9"/><circle cx="961.6" cy="200.3" r="2.9"/><circle cx="963.5" cy="200.2" r="2.9"/><circle cx="965" cy="200.2" r="2.9"/><circle cx="967.7" cy="200.2" r="2.9"/><circle cx="969.4" cy="199.6" r="2.9"/><circle cx="971.2" cy="200.4" r="2.9"/><circle cx="972.8" cy="199.6" r="2.9"/><circle cx="974.8" cy="200.7" r="2.9"/><circle cx="976.9" cy="200.3" r="2.9"/><circle cx="978.7" cy="200" r="2.9"/><circle cx="980.1" cy="200.3" r="2.9"/><circle cx="982.6" cy="200.4" r="2.9"/></g>
<polyline stroke-width="1.3" opacity="0.9" points="606.9,169.7 608.8,168.2 610.4,167 611.9,167.6 613.7,165.8 615.7,165.7 617.5,165.1 619.4,166 620.8,161.9 622.7,162.3 624.5,161.3 625.8,161.8 627,161.2 628.7,160.9 630.2,157.4 632.5,157.9 633.4,155.6 635.5,154 636.7,154 638.4,151.7 639.6,149.6 640.5,149.2 641.7,146.5 642.7,145.8 643.7,144.5 644.4,143.1 645.3,142.5 646.6,138.7 646.6,135.9 647.8,135.7 648.4,134.2 649.4,132.3 650.4,131.7 650.9,128.3 651.8,125.4 651.9,125.9 653.3,123.5 653.7,122.5 654.8,120.6 655.5,119.4 655.7,117.1 657.3,116 659.2,114 661.4,113.3 662.8,114.5 664.3,114.3 665.1,117.1 666.9,119.7 667.9,121.8 668.3,122 669,126.4 669.4,126.7 670.7,126.9 671.8,128.3 671.9,131.1 672.7,132.3 673.1,134.1 673.4,136.3 674.6,137.2 674.5,140.3 675.4,140.6 676,143.7 676.8,146.7 677.2,149.9 677.8,149 678.1,150.7 678.6,152.1 679.5,155.1 680,155 680.6,157.9 681.4,159.8 682.3,160.8 682.7,162.7 683.7,164.9 684.5,165.2 685.9,168.1 687,170.9 688.7,172.3 689.2,173.6 691,173.5 693.1,175 694.6,177 696.5,176.6 698.3,174 698.9,171.5 699.7,171 700.4,168.5 701.6,166.3 702.3,164.8 702.7,164.8 703.6,161.9 704.8,160.8 705.7,157.8 706.2,157.8 707.4,154.9 708.4,154 708.8,154.8 710.3,151.6 711.6,148.9 712.7,147.7 714,147.2 716.2,147 718.3,145.8 720.4,145.3 721.2,147 723.9,148.5 724.4,149.4 726.2,151.8 727.7,152.2 729.2,154.1 730.5,153.5 731.8,155.7 733.7,157.9 734.8,157.3 735.6,158.4 738.2,160.6 739,163.7 740.8,162.7 741.7,164.3 743.9,165.9 745.6,166.9 747.3,167.1 748.7,169 750.1,169.5 752,170.9 753.3,171.5 755.1,171.2 757.3,172.5 758.9,173.4 760.8,172.2 762.6,173.4 765,173.8 766.5,171.6 767.6,171.7 769.4,170 770.1,170.4 771.4,169.9 773,168.2 773.9,164.6 775.7,164.8 777.1,163.2 779.1,162.2 781.2,162.1 782.4,158.4 784.4,160.1 786,158.8 787.7,159.6 789.5,158.2 792.1,157 794.2,157.8 795.6,158.6 797.1,158.6 799.2,159.4 800.6,159 802.5,159.1 804.1,162 805.8,163.2 807.4,164.1 808.8,164.5 810.6,166.4 812.1,165.3 814.3,164.6 815.8,164.5 817.9,164.7 819.6,162.1 821.7,164.1 823.7,162.5 825.1,162.8 827.2,165.2 829,164.7 831.3,164 833.3,165.7 834.8,167.8 836.1,169.2 838.1,169.3 838.9,170.8 841.3,171.8 842.3,171.5 843.4,172.8 846.3,173.6 847.6,174.1 848.7,174.6 850.8,175.5 852.6,175.5 854.6,175.2 856.1,175.8 858.2,178.1 860.2,178.2 861.6,179.9 863.2,181.2 864.2,181.9 866,184.7 866.6,183.6 868.1,187 868.9,187.4 870.4,190.2 872.5,190.9 873.6,188 875.6,189.4 877.2,192.3 878.7,193.5 880.6,194.1 882.4,194.6 884.1,195.7 886.2,196.3 888,196.5 889.5,197.8 891.3,195.3 893.4,198.5 895.1,198.1 897.2,200.6 899.5,200.2 901,200.1 902.6,201.2 904.5,199.6 906.2,199.8 908.1,199.5 910,200 912,200.5 913.9,200.6 916.1,200.1 917.7,200.7 919.7,200.3 921.3,200.3 923.9,200.8 925.5,200.9 927.8,200.4 929.4,200.1 931.5,199.9 933,199.9 935.1,199.3 937.5,200.4 938.4,200 940.9,200.4 942.9,199.9 944.5,200.5 946.5,200.3 948.5,200 949.9,201 952.1,200.2 953.7,200.7 955.6,200.7 957.6,199.9 959.6,199.9 961.6,200.3 963.5,200.2 965,200.2 967.7,200.2 969.4,199.6 971.2,200.4 972.8,199.6 974.8,200.7 976.9,200.3 978.7,200 980.1,200.3 982.6,200.4"/>
</g>
<g fill="none" stroke="#ec2a30">
<g stroke-width="1.0" opacity="0.85"><circle cx="606.8" cy="209.3" r="2.9"/><circle cx="608.7" cy="204.2" r="2.9"/><circle cx="610.1" cy="205.9" r="2.9"/><circle cx="611.1" cy="204.4" r="2.9"/><circle cx="612.7" cy="202.7" r="2.9"/><circle cx="614" cy="202.8" r="2.9"/><circle cx="615.9" cy="199.3" r="2.9"/><circle cx="617.5" cy="199.2" r="2.9"/><circle cx="619.7" cy="199.3" r="2.9"/><circle cx="620.6" cy="197" r="2.9"/><circle cx="621.6" cy="195.4" r="2.9"/><circle cx="623.5" cy="194.7" r="2.9"/><circle cx="625.3" cy="193.3" r="2.9"/><circle cx="626.6" cy="193.5" r="2.9"/><circle cx="628.3" cy="190.4" r="2.9"/><circle cx="630.1" cy="191.3" r="2.9"/><circle cx="631.8" cy="188.8" r="2.9"/><circle cx="633.3" cy="189.8" r="2.9"/><circle cx="634.7" cy="187.7" r="2.9"/><circle cx="636.8" cy="184.6" r="2.9"/><circle cx="638.2" cy="186" r="2.9"/><circle cx="640" cy="184.3" r="2.9"/><circle cx="641.6" cy="184.9" r="2.9"/><circle cx="643.5" cy="185.9" r="2.9"/><circle cx="645.7" cy="182.6" r="2.9"/><circle cx="647" cy="182.4" r="2.9"/><circle cx="649.3" cy="183.9" r="2.9"/><circle cx="651.4" cy="182.3" r="2.9"/><circle cx="653" cy="184.2" r="2.9"/><circle cx="655" cy="183" r="2.9"/><circle cx="656.6" cy="182.6" r="2.9"/><circle cx="659" cy="184" r="2.9"/><circle cx="660.7" cy="185.1" r="2.9"/><circle cx="662.3" cy="185.4" r="2.9"/><circle cx="663.4" cy="185.6" r="2.9"/><circle cx="664.9" cy="187.4" r="2.9"/><circle cx="666.7" cy="188.5" r="2.9"/><circle cx="668.1" cy="190" r="2.9"/><circle cx="669" cy="193.4" r="2.9"/><circle cx="670.5" cy="192.8" r="2.9"/><circle cx="671.4" cy="193.9" r="2.9"/><circle cx="672.9" cy="195.6" r="2.9"/><circle cx="674.3" cy="197.9" r="2.9"/><circle cx="675.7" cy="199.9" r="2.9"/><circle cx="676.6" cy="200.2" r="2.9"/><circle cx="678.5" cy="201.1" r="2.9"/><circle cx="679.9" cy="203.6" r="2.9"/><circle cx="680.5" cy="203.4" r="2.9"/><circle cx="681.7" cy="205.3" r="2.9"/><circle cx="683.2" cy="208.8" r="2.9"/><circle cx="684.1" cy="209" r="2.9"/><circle cx="684.9" cy="211.1" r="2.9"/><circle cx="687.1" cy="213.1" r="2.9"/><circle cx="688.4" cy="213.5" r="2.9"/><circle cx="689.8" cy="214.7" r="2.9"/><circle cx="692.3" cy="216.5" r="2.9"/><circle cx="693.5" cy="214.7" r="2.9"/><circle cx="694.8" cy="213.3" r="2.9"/><circle cx="696.3" cy="212.5" r="2.9"/><circle cx="697.1" cy="210.4" r="2.9"/><circle cx="698.1" cy="207.8" r="2.9"/><circle cx="699.3" cy="206.1" r="2.9"/><circle cx="700.1" cy="204.4" r="2.9"/><circle cx="701.1" cy="201.8" r="2.9"/><circle cx="702.6" cy="201.4" r="2.9"/><circle cx="703.4" cy="199.8" r="2.9"/><circle cx="704.4" cy="197.8" r="2.9"/><circle cx="705.4" cy="194.9" r="2.9"/><circle cx="706.6" cy="194.4" r="2.9"/><circle cx="708.3" cy="193.8" r="2.9"/><circle cx="709.6" cy="192.5" r="2.9"/><circle cx="711.8" cy="190.6" r="2.9"/><circle cx="713" cy="192.2" r="2.9"/><circle cx="715.1" cy="190.7" r="2.9"/><circle cx="716.6" cy="192.8" r="2.9"/><circle cx="718.5" cy="194.9" r="2.9"/><circle cx="720.1" cy="194.6" r="2.9"/><circle cx="721.7" cy="196.2" r="2.9"/><circle cx="722.5" cy="198.7" r="2.9"/><circle cx="723.8" cy="198.9" r="2.9"/><circle cx="724.8" cy="200.1" r="2.9"/><circle cx="725.7" cy="202.3" r="2.9"/><circle cx="726.6" cy="204.5" r="2.9"/><circle cx="727.9" cy="203.7" r="2.9"/><circle cx="728.5" cy="207" r="2.9"/><circle cx="730.1" cy="208.5" r="2.9"/><circle cx="731.3" cy="210.5" r="2.9"/><circle cx="732.4" cy="212.1" r="2.9"/><circle cx="733.6" cy="212.9" r="2.9"/><circle cx="734.9" cy="215.3" r="2.9"/><circle cx="737.1" cy="215.2" r="2.9"/><circle cx="737.8" cy="217.7" r="2.9"/><circle cx="740" cy="219.3" r="2.9"/><circle cx="741.4" cy="219.3" r="2.9"/><circle cx="742.8" cy="221.1" r="2.9"/><circle cx="744.3" cy="223.2" r="2.9"/><circle cx="746.6" cy="223" r="2.9"/><circle cx="748.6" cy="222.5" r="2.9"/><circle cx="749.8" cy="223.1" r="2.9"/><circle cx="751.8" cy="222.1" r="2.9"/><circle cx="754.1" cy="223" r="2.9"/><circle cx="755.7" cy="223" r="2.9"/><circle cx="758" cy="221.5" r="2.9"/><circle cx="759.2" cy="221.6" r="2.9"/><circle cx="761.4" cy="222.4" r="2.9"/><circle cx="762.8" cy="221" r="2.9"/><circle cx="765.6" cy="221.2" r="2.9"/><circle cx="766.8" cy="220.8" r="2.9"/><circle cx="768.3" cy="220.9" r="2.9"/><circle cx="770.7" cy="221.2" r="2.9"/><circle cx="772.6" cy="223.6" r="2.9"/><circle cx="774.9" cy="221.2" r="2.9"/><circle cx="776.2" cy="222" r="2.9"/><circle cx="778.2" cy="222.7" r="2.9"/><circle cx="780.2" cy="223.9" r="2.9"/><circle cx="782.3" cy="224.9" r="2.9"/><circle cx="783.7" cy="224.5" r="2.9"/><circle cx="785.8" cy="226.8" r="2.9"/><circle cx="787.5" cy="226" r="2.9"/><circle cx="789.1" cy="227.7" r="2.9"/><circle cx="791" cy="227.4" r="2.9"/><circle cx="792.8" cy="228.2" r="2.9"/><circle cx="794.3" cy="226.5" r="2.9"/><circle cx="796.6" cy="228.5" r="2.9"/><circle cx="797.6" cy="229.2" r="2.9"/><circle cx="800" cy="229.2" r="2.9"/><circle cx="801.6" cy="228.8" r="2.9"/><circle cx="803.1" cy="232.2" r="2.9"/><circle cx="804.8" cy="231.7" r="2.9"/><circle cx="806.7" cy="232.5" r="2.9"/><circle cx="808.7" cy="233.4" r="2.9"/><circle cx="810.6" cy="233.9" r="2.9"/><circle cx="812.3" cy="235.3" r="2.9"/><circle cx="814.3" cy="235.1" r="2.9"/><circle cx="815.8" cy="235.4" r="2.9"/><circle cx="817.8" cy="237" r="2.9"/><circle cx="819.2" cy="237" r="2.9"/><circle cx="821.6" cy="236.7" r="2.9"/><circle cx="823.3" cy="237.1" r="2.9"/><circle cx="825" cy="237.3" r="2.9"/><circle cx="827.2" cy="238.9" r="2.9"/><circle cx="828.8" cy="240.6" r="2.9"/><circle cx="829.8" cy="239.3" r="2.9"/><circle cx="832.3" cy="242.1" r="2.9"/><circle cx="833.7" cy="241.8" r="2.9"/><circle cx="836.2" cy="241" r="2.9"/><circle cx="838.4" cy="242.4" r="2.9"/><circle cx="839.5" cy="240.9" r="2.9"/><circle cx="841.5" cy="240.9" r="2.9"/><circle cx="843.2" cy="242" r="2.9"/><circle cx="845.2" cy="243.2" r="2.9"/><circle cx="847.1" cy="244.4" r="2.9"/><circle cx="849.1" cy="245.3" r="2.9"/><circle cx="850.3" cy="246.7" r="2.9"/><circle cx="852.7" cy="245.6" r="2.9"/><circle cx="853.8" cy="248.5" r="2.9"/><circle cx="855.9" cy="247.4" r="2.9"/><circle cx="857.9" cy="248.6" r="2.9"/><circle cx="859.5" cy="249.7" r="2.9"/><circle cx="860.8" cy="249.4" r="2.9"/><circle cx="862.6" cy="250.3" r="2.9"/><circle cx="864.3" cy="251.5" r="2.9"/><circle cx="866.1" cy="253.7" r="2.9"/><circle cx="868.1" cy="254.8" r="2.9"/><circle cx="869.1" cy="255.5" r="2.9"/><circle cx="871.2" cy="254.9" r="2.9"/><circle cx="872.9" cy="255.9" r="2.9"/><circle cx="874.6" cy="256.9" r="2.9"/><circle cx="876.2" cy="258.8" r="2.9"/><circle cx="878.1" cy="258.1" r="2.9"/><circle cx="879.5" cy="261.7" r="2.9"/><circle cx="881.3" cy="260.9" r="2.9"/><circle cx="882.9" cy="261.5" r="2.9"/><circle cx="884.9" cy="262.7" r="2.9"/><circle cx="885.7" cy="263.9" r="2.9"/><circle cx="888.2" cy="264.3" r="2.9"/><circle cx="889.5" cy="265.7" r="2.9"/><circle cx="891.3" cy="265.8" r="2.9"/><circle cx="892.9" cy="267.3" r="2.9"/><circle cx="894.5" cy="267.7" r="2.9"/><circle cx="896.7" cy="267.3" r="2.9"/><circle cx="898.4" cy="269.6" r="2.9"/><circle cx="900.6" cy="268.5" r="2.9"/><circle cx="902" cy="268.9" r="2.9"/><circle cx="904.6" cy="268" r="2.9"/><circle cx="906.2" cy="268.7" r="2.9"/><circle cx="908" cy="269.3" r="2.9"/><circle cx="909.8" cy="268.6" r="2.9"/><circle cx="911.6" cy="269.3" r="2.9"/><circle cx="913.5" cy="269.2" r="2.9"/><circle cx="915.5" cy="269.3" r="2.9"/><circle cx="917.5" cy="268.4" r="2.9"/><circle cx="919.4" cy="269.4" r="2.9"/><circle cx="921" cy="269.6" r="2.9"/><circle cx="923.2" cy="268.9" r="2.9"/><circle cx="924.9" cy="269.3" r="2.9"/><circle cx="927.1" cy="268.4" r="2.9"/><circle cx="929.4" cy="269.6" r="2.9"/><circle cx="931" cy="269.3" r="2.9"/><circle cx="932.7" cy="270" r="2.9"/><circle cx="934.2" cy="268.8" r="2.9"/><circle cx="936.2" cy="269.7" r="2.9"/><circle cx="938" cy="269.4" r="2.9"/><circle cx="940.5" cy="269.8" r="2.9"/><circle cx="942" cy="269.2" r="2.9"/><circle cx="944.2" cy="269.3" r="2.9"/><circle cx="945.9" cy="270.1" r="2.9"/><circle cx="948" cy="268.7" r="2.9"/><circle cx="950.2" cy="268.7" r="2.9"/><circle cx="951.6" cy="269" r="2.9"/><circle cx="953.6" cy="268.6" r="2.9"/><circle cx="955.3" cy="269.4" r="2.9"/><circle cx="957.7" cy="269.9" r="2.9"/><circle cx="959.1" cy="268.9" r="2.9"/><circle cx="961" cy="268.6" r="2.9"/><circle cx="962.8" cy="269.9" r="2.9"/><circle cx="964.7" cy="269.9" r="2.9"/><circle cx="967.1" cy="269.8" r="2.9"/><circle cx="969.5" cy="270" r="2.9"/><circle cx="970.5" cy="269" r="2.9"/><circle cx="972.9" cy="269.4" r="2.9"/><circle cx="974.6" cy="269.1" r="2.9"/><circle cx="976.2" cy="268.9" r="2.9"/><circle cx="978.3" cy="269.9" r="2.9"/><circle cx="980.2" cy="269.2" r="2.9"/><circle cx="982" cy="270.2" r="2.9"/></g>
<polyline stroke-width="1.3" opacity="0.9" points="606.8,209.3 608.7,204.2 610.1,205.9 611.1,204.4 612.7,202.7 614,202.8 615.9,199.3 617.5,199.2 619.7,199.3 620.6,197 621.6,195.4 623.5,194.7 625.3,193.3 626.6,193.5 628.3,190.4 630.1,191.3 631.8,188.8 633.3,189.8 634.7,187.7 636.8,184.6 638.2,186 640,184.3 641.6,184.9 643.5,185.9 645.7,182.6 647,182.4 649.3,183.9 651.4,182.3 653,184.2 655,183 656.6,182.6 659,184 660.7,185.1 662.3,185.4 663.4,185.6 664.9,187.4 666.7,188.5 668.1,190 669,193.4 670.5,192.8 671.4,193.9 672.9,195.6 674.3,197.9 675.7,199.9 676.6,200.2 678.5,201.1 679.9,203.6 680.5,203.4 681.7,205.3 683.2,208.8 684.1,209 684.9,211.1 687.1,213.1 688.4,213.5 689.8,214.7 692.3,216.5 693.5,214.7 694.8,213.3 696.3,212.5 697.1,210.4 698.1,207.8 699.3,206.1 700.1,204.4 701.1,201.8 702.6,201.4 703.4,199.8 704.4,197.8 705.4,194.9 706.6,194.4 708.3,193.8 709.6,192.5 711.8,190.6 713,192.2 715.1,190.7 716.6,192.8 718.5,194.9 720.1,194.6 721.7,196.2 722.5,198.7 723.8,198.9 724.8,200.1 725.7,202.3 726.6,204.5 727.9,203.7 728.5,207 730.1,208.5 731.3,210.5 732.4,212.1 733.6,212.9 734.9,215.3 737.1,215.2 737.8,217.7 740,219.3 741.4,219.3 742.8,221.1 744.3,223.2 746.6,223 748.6,222.5 749.8,223.1 751.8,222.1 754.1,223 755.7,223 758,221.5 759.2,221.6 761.4,222.4 762.8,221 765.6,221.2 766.8,220.8 768.3,220.9 770.7,221.2 772.6,223.6 774.9,221.2 776.2,222 778.2,222.7 780.2,223.9 782.3,224.9 783.7,224.5 785.8,226.8 787.5,226 789.1,227.7 791,227.4 792.8,228.2 794.3,226.5 796.6,228.5 797.6,229.2 800,229.2 801.6,228.8 803.1,232.2 804.8,231.7 806.7,232.5 808.7,233.4 810.6,233.9 812.3,235.3 814.3,235.1 815.8,235.4 817.8,237 819.2,237 821.6,236.7 823.3,237.1 825,237.3 827.2,238.9 828.8,240.6 829.8,239.3 832.3,242.1 833.7,241.8 836.2,241 838.4,242.4 839.5,240.9 841.5,240.9 843.2,242 845.2,243.2 847.1,244.4 849.1,245.3 850.3,246.7 852.7,245.6 853.8,248.5 855.9,247.4 857.9,248.6 859.5,249.7 860.8,249.4 862.6,250.3 864.3,251.5 866.1,253.7 868.1,254.8 869.1,255.5 871.2,254.9 872.9,255.9 874.6,256.9 876.2,258.8 878.1,258.1 879.5,261.7 881.3,260.9 882.9,261.5 884.9,262.7 885.7,263.9 888.2,264.3 889.5,265.7 891.3,265.8 892.9,267.3 894.5,267.7 896.7,267.3 898.4,269.6 900.6,268.5 902,268.9 904.6,268 906.2,268.7 908,269.3 909.8,268.6 911.6,269.3 913.5,269.2 915.5,269.3 917.5,268.4 919.4,269.4 921,269.6 923.2,268.9 924.9,269.3 927.1,268.4 929.4,269.6 931,269.3 932.7,270 934.2,268.8 936.2,269.7 938,269.4 940.5,269.8 942,269.2 944.2,269.3 945.9,270.1 948,268.7 950.2,268.7 951.6,269 953.6,268.6 955.3,269.4 957.7,269.9 959.1,268.9 961,268.6 962.8,269.9 964.7,269.9 967.1,269.8 969.5,270 970.5,269 972.9,269.4 974.6,269.1 976.2,268.9 978.3,269.9 980.2,269.2 982,270.2"/>
</g>
<g fill="none" stroke="#1c1c1c">
<g stroke-width="1.0" opacity="0.85"><circle cx="606.4" cy="241.9" r="2.9"/><circle cx="608" cy="237.7" r="2.9"/><circle cx="610.4" cy="238.4" r="2.9"/><circle cx="612" cy="237.2" r="2.9"/><circle cx="613.3" cy="235.7" r="2.9"/><circle cx="614.8" cy="235.7" r="2.9"/><circle cx="616.1" cy="235.5" r="2.9"/><circle cx="617.3" cy="233.7" r="2.9"/><circle cx="619.3" cy="232.8" r="2.9"/><circle cx="620.6" cy="231.7" r="2.9"/><circle cx="622.2" cy="228.7" r="2.9"/><circle cx="623.9" cy="231" r="2.9"/><circle cx="625.9" cy="230.8" r="2.9"/><circle cx="627.6" cy="229.4" r="2.9"/><circle cx="629.6" cy="229.2" r="2.9"/><circle cx="631" cy="227.3" r="2.9"/><circle cx="633.3" cy="228.8" r="2.9"/><circle cx="635.6" cy="228.1" r="2.9"/><circle cx="636.8" cy="227.6" r="2.9"/><circle cx="638.8" cy="228.6" r="2.9"/><circle cx="640.9" cy="226.3" r="2.9"/><circle cx="642.8" cy="227" r="2.9"/><circle cx="644.6" cy="226.2" r="2.9"/><circle cx="645.8" cy="228.3" r="2.9"/><circle cx="647.8" cy="230.3" r="2.9"/><circle cx="648.8" cy="231.1" r="2.9"/><circle cx="650.4" cy="232.3" r="2.9"/><circle cx="652.2" cy="236.6" r="2.9"/><circle cx="653.4" cy="235.5" r="2.9"/><circle cx="655" cy="236.5" r="2.9"/><circle cx="657" cy="238.2" r="2.9"/><circle cx="657.8" cy="240.9" r="2.9"/><circle cx="659.2" cy="242.6" r="2.9"/><circle cx="660.2" cy="242.8" r="2.9"/><circle cx="661.8" cy="242.7" r="2.9"/><circle cx="663.2" cy="243.8" r="2.9"/><circle cx="664.8" cy="246" r="2.9"/><circle cx="666.2" cy="245" r="2.9"/><circle cx="667.8" cy="248.3" r="2.9"/><circle cx="669.4" cy="249.2" r="2.9"/><circle cx="670.8" cy="249.2" r="2.9"/><circle cx="672.2" cy="251.1" r="2.9"/><circle cx="673.8" cy="252.1" r="2.9"/><circle cx="676" cy="254" r="2.9"/><circle cx="677.7" cy="252.3" r="2.9"/><circle cx="679.8" cy="254.4" r="2.9"/><circle cx="681.7" cy="253.3" r="2.9"/><circle cx="683.2" cy="252.6" r="2.9"/><circle cx="685.1" cy="252.8" r="2.9"/><circle cx="686.1" cy="251.8" r="2.9"/><circle cx="688.5" cy="250" r="2.9"/><circle cx="689.6" cy="248.2" r="2.9"/><circle cx="690.6" cy="247.6" r="2.9"/><circle cx="691.4" cy="248" r="2.9"/><circle cx="692.8" cy="246.7" r="2.9"/><circle cx="693.3" cy="244.3" r="2.9"/><circle cx="694.7" cy="243.3" r="2.9"/><circle cx="696.7" cy="240.8" r="2.9"/><circle cx="698.2" cy="240.5" r="2.9"/><circle cx="699.9" cy="240" r="2.9"/><circle cx="702.1" cy="238.8" r="2.9"/><circle cx="703.5" cy="239.3" r="2.9"/><circle cx="705.7" cy="240.7" r="2.9"/><circle cx="707.4" cy="240.9" r="2.9"/><circle cx="709" cy="240.9" r="2.9"/><circle cx="710.8" cy="243.3" r="2.9"/><circle cx="712" cy="243.8" r="2.9"/><circle cx="714.1" cy="245.4" r="2.9"/><circle cx="714.9" cy="246.2" r="2.9"/><circle cx="716.8" cy="247" r="2.9"/><circle cx="717.3" cy="248.5" r="2.9"/><circle cx="719" cy="250.2" r="2.9"/><circle cx="719.8" cy="250.6" r="2.9"/><circle cx="721.1" cy="252.7" r="2.9"/><circle cx="722.7" cy="255.5" r="2.9"/><circle cx="724.2" cy="256.5" r="2.9"/><circle cx="725" cy="258.7" r="2.9"/><circle cx="727" cy="256.9" r="2.9"/><circle cx="728" cy="259.5" r="2.9"/><circle cx="729.9" cy="260.4" r="2.9"/><circle cx="731.7" cy="261" r="2.9"/><circle cx="733.6" cy="261.2" r="2.9"/><circle cx="734.8" cy="261.2" r="2.9"/><circle cx="737.5" cy="263" r="2.9"/><circle cx="739.1" cy="262.9" r="2.9"/><circle cx="740.7" cy="262.1" r="2.9"/><circle cx="742.4" cy="264.9" r="2.9"/><circle cx="744.2" cy="264.5" r="2.9"/><circle cx="746.1" cy="264.1" r="2.9"/><circle cx="748.5" cy="265.2" r="2.9"/><circle cx="750.2" cy="264.3" r="2.9"/><circle cx="751.9" cy="266.7" r="2.9"/><circle cx="753.9" cy="265.5" r="2.9"/><circle cx="756.3" cy="265.7" r="2.9"/><circle cx="757.7" cy="266" r="2.9"/><circle cx="759.5" cy="265.7" r="2.9"/><circle cx="761.8" cy="267.2" r="2.9"/><circle cx="763.5" cy="267.2" r="2.9"/><circle cx="765.2" cy="267" r="2.9"/><circle cx="766.8" cy="267.7" r="2.9"/><circle cx="768.4" cy="265.4" r="2.9"/><circle cx="770.3" cy="269.2" r="2.9"/><circle cx="772.2" cy="268.7" r="2.9"/><circle cx="774.1" cy="270.2" r="2.9"/><circle cx="776.1" cy="271.1" r="2.9"/><circle cx="778" cy="270.9" r="2.9"/><circle cx="779.8" cy="270.6" r="2.9"/><circle cx="781.6" cy="271.6" r="2.9"/><circle cx="783.2" cy="272.7" r="2.9"/><circle cx="784.7" cy="272.8" r="2.9"/><circle cx="787" cy="273.5" r="2.9"/><circle cx="788.7" cy="273.8" r="2.9"/><circle cx="790.6" cy="275.5" r="2.9"/><circle cx="792.6" cy="275.1" r="2.9"/><circle cx="794.2" cy="276.1" r="2.9"/><circle cx="796" cy="275.6" r="2.9"/><circle cx="798.1" cy="276.7" r="2.9"/><circle cx="800" cy="276.9" r="2.9"/><circle cx="801.7" cy="277.8" r="2.9"/><circle cx="803.8" cy="278.3" r="2.9"/><circle cx="805.5" cy="278" r="2.9"/><circle cx="807.1" cy="277.8" r="2.9"/><circle cx="809.2" cy="278.5" r="2.9"/><circle cx="811.5" cy="280.8" r="2.9"/><circle cx="812.7" cy="280.1" r="2.9"/><circle cx="815" cy="280.5" r="2.9"/><circle cx="816.9" cy="282.3" r="2.9"/><circle cx="818.8" cy="282.9" r="2.9"/><circle cx="820.1" cy="282.6" r="2.9"/><circle cx="822.6" cy="282" r="2.9"/><circle cx="824" cy="285.1" r="2.9"/><circle cx="825.7" cy="283.5" r="2.9"/><circle cx="827.5" cy="284.2" r="2.9"/><circle cx="829.5" cy="284.2" r="2.9"/><circle cx="831.2" cy="284.1" r="2.9"/><circle cx="832.9" cy="285.3" r="2.9"/><circle cx="835.1" cy="287.5" r="2.9"/><circle cx="836.4" cy="288.5" r="2.9"/><circle cx="838.1" cy="288.1" r="2.9"/><circle cx="840.4" cy="287.7" r="2.9"/><circle cx="842.2" cy="288.4" r="2.9"/><circle cx="844.1" cy="289.6" r="2.9"/><circle cx="845.3" cy="290" r="2.9"/><circle cx="847.6" cy="292.7" r="2.9"/><circle cx="849.2" cy="293.1" r="2.9"/><circle cx="851.2" cy="295.5" r="2.9"/><circle cx="852.2" cy="293.9" r="2.9"/><circle cx="854.3" cy="293.3" r="2.9"/><circle cx="856" cy="293.3" r="2.9"/><circle cx="857.4" cy="291.8" r="2.9"/><circle cx="859.4" cy="295.3" r="2.9"/><circle cx="861.6" cy="296.7" r="2.9"/><circle cx="862.9" cy="299.4" r="2.9"/><circle cx="864.6" cy="300" r="2.9"/><circle cx="866.7" cy="300.5" r="2.9"/><circle cx="868.5" cy="301" r="2.9"/><circle cx="870.3" cy="301.7" r="2.9"/><circle cx="871.6" cy="302.6" r="2.9"/><circle cx="873.5" cy="301.5" r="2.9"/><circle cx="875.5" cy="302.6" r="2.9"/><circle cx="876.9" cy="302.4" r="2.9"/><circle cx="878.6" cy="305.8" r="2.9"/><circle cx="880.8" cy="305.9" r="2.9"/><circle cx="882.7" cy="305.9" r="2.9"/><circle cx="883.8" cy="305.3" r="2.9"/><circle cx="885.2" cy="307" r="2.9"/><circle cx="887.3" cy="306.9" r="2.9"/><circle cx="889.2" cy="307.7" r="2.9"/><circle cx="891.2" cy="308.4" r="2.9"/><circle cx="893.2" cy="309.2" r="2.9"/><circle cx="894.9" cy="309.4" r="2.9"/><circle cx="896.6" cy="311.4" r="2.9"/><circle cx="898.7" cy="311" r="2.9"/><circle cx="900.2" cy="311.1" r="2.9"/><circle cx="902.3" cy="311.5" r="2.9"/><circle cx="904" cy="311.4" r="2.9"/><circle cx="906.8" cy="312.5" r="2.9"/><circle cx="908.2" cy="312.4" r="2.9"/><circle cx="909.6" cy="312.7" r="2.9"/><circle cx="911.5" cy="312.6" r="2.9"/><circle cx="913.5" cy="312.3" r="2.9"/><circle cx="915.1" cy="313.3" r="2.9"/><circle cx="917.3" cy="312.7" r="2.9"/><circle cx="919.2" cy="313.3" r="2.9"/><circle cx="921.5" cy="313.1" r="2.9"/><circle cx="923" cy="312.3" r="2.9"/><circle cx="924.9" cy="312.5" r="2.9"/><circle cx="926.6" cy="312.7" r="2.9"/><circle cx="928.6" cy="312.5" r="2.9"/><circle cx="930.7" cy="312.2" r="2.9"/><circle cx="932.6" cy="313.1" r="2.9"/><circle cx="934.8" cy="312.7" r="2.9"/><circle cx="936.3" cy="312.9" r="2.9"/><circle cx="938.6" cy="312.8" r="2.9"/><circle cx="940.3" cy="312.9" r="2.9"/><circle cx="942.1" cy="312.4" r="2.9"/><circle cx="943.5" cy="312.8" r="2.9"/><circle cx="945.6" cy="313" r="2.9"/><circle cx="948" cy="313.1" r="2.9"/><circle cx="950.1" cy="312.8" r="2.9"/><circle cx="951.7" cy="312.3" r="2.9"/><circle cx="953.7" cy="312.8" r="2.9"/><circle cx="955.3" cy="312.8" r="2.9"/><circle cx="957.3" cy="312.9" r="2.9"/><circle cx="959.1" cy="313" r="2.9"/><circle cx="961.4" cy="313.4" r="2.9"/><circle cx="963.1" cy="314.1" r="2.9"/><circle cx="964.9" cy="312.8" r="2.9"/><circle cx="966.8" cy="312.8" r="2.9"/><circle cx="968.9" cy="313.2" r="2.9"/><circle cx="970.7" cy="312" r="2.9"/><circle cx="972.3" cy="313.2" r="2.9"/><circle cx="974.9" cy="313.1" r="2.9"/><circle cx="976.4" cy="313.8" r="2.9"/><circle cx="978.3" cy="313.2" r="2.9"/><circle cx="980.5" cy="313" r="2.9"/><circle cx="982.3" cy="313.2" r="2.9"/></g>
<polyline stroke-width="1.3" opacity="0.9" points="606.4,241.9 608,237.7 610.4,238.4 612,237.2 613.3,235.7 614.8,235.7 616.1,235.5 617.3,233.7 619.3,232.8 620.6,231.7 622.2,228.7 623.9,231 625.9,230.8 627.6,229.4 629.6,229.2 631,227.3 633.3,228.8 635.6,228.1 636.8,227.6 638.8,228.6 640.9,226.3 642.8,227 644.6,226.2 645.8,228.3 647.8,230.3 648.8,231.1 650.4,232.3 652.2,236.6 653.4,235.5 655,236.5 657,238.2 657.8,240.9 659.2,242.6 660.2,242.8 661.8,242.7 663.2,243.8 664.8,246 666.2,245 667.8,248.3 669.4,249.2 670.8,249.2 672.2,251.1 673.8,252.1 676,254 677.7,252.3 679.8,254.4 681.7,253.3 683.2,252.6 685.1,252.8 686.1,251.8 688.5,250 689.6,248.2 690.6,247.6 691.4,248 692.8,246.7 693.3,244.3 694.7,243.3 696.7,240.8 698.2,240.5 699.9,240 702.1,238.8 703.5,239.3 705.7,240.7 707.4,240.9 709,240.9 710.8,243.3 712,243.8 714.1,245.4 714.9,246.2 716.8,247 717.3,248.5 719,250.2 719.8,250.6 721.1,252.7 722.7,255.5 724.2,256.5 725,258.7 727,256.9 728,259.5 729.9,260.4 731.7,261 733.6,261.2 734.8,261.2 737.5,263 739.1,262.9 740.7,262.1 742.4,264.9 744.2,264.5 746.1,264.1 748.5,265.2 750.2,264.3 751.9,266.7 753.9,265.5 756.3,265.7 757.7,266 759.5,265.7 761.8,267.2 763.5,267.2 765.2,267 766.8,267.7 768.4,265.4 770.3,269.2 772.2,268.7 774.1,270.2 776.1,271.1 778,270.9 779.8,270.6 781.6,271.6 783.2,272.7 784.7,272.8 787,273.5 788.7,273.8 790.6,275.5 792.6,275.1 794.2,276.1 796,275.6 798.1,276.7 800,276.9 801.7,277.8 803.8,278.3 805.5,278 807.1,277.8 809.2,278.5 811.5,280.8 812.7,280.1 815,280.5 816.9,282.3 818.8,282.9 820.1,282.6 822.6,282 824,285.1 825.7,283.5 827.5,284.2 829.5,284.2 831.2,284.1 832.9,285.3 835.1,287.5 836.4,288.5 838.1,288.1 840.4,287.7 842.2,288.4 844.1,289.6 845.3,290 847.6,292.7 849.2,293.1 851.2,295.5 852.2,293.9 854.3,293.3 856,293.3 857.4,291.8 859.4,295.3 861.6,296.7 862.9,299.4 864.6,300 866.7,300.5 868.5,301 870.3,301.7 871.6,302.6 873.5,301.5 875.5,302.6 876.9,302.4 878.6,305.8 880.8,305.9 882.7,305.9 883.8,305.3 885.2,307 887.3,306.9 889.2,307.7 891.2,308.4 893.2,309.2 894.9,309.4 896.6,311.4 898.7,311 900.2,311.1 902.3,311.5 904,311.4 906.8,312.5 908.2,312.4 909.6,312.7 911.5,312.6 913.5,312.3 915.1,313.3 917.3,312.7 919.2,313.3 921.5,313.1 923,312.3 924.9,312.5 926.6,312.7 928.6,312.5 930.7,312.2 932.6,313.1 934.8,312.7 936.3,312.9 938.6,312.8 940.3,312.9 942.1,312.4 943.5,312.8 945.6,313 948,313.1 950.1,312.8 951.7,312.3 953.7,312.8 955.3,312.8 957.3,312.9 959.1,313 961.4,313.4 963.1,314.1 964.9,312.8 966.8,312.8 968.9,313.2 970.7,312 972.3,313.2 974.9,313.1 976.4,313.8 978.3,313.2 980.5,313 982.3,313.2"/>
</g>
<g stroke="#b545c4" stroke-width="1.9" stroke-dasharray="1.8 1.4" fill="none">
<line x1="831" y1="160" x2="985" y2="160"/>
<line x1="847" y1="115.5" x2="900" y2="164"/>
<line x1="835" y1="202.4" x2="987" y2="202.4"/>
<line x1="839" y1="179.6" x2="912" y2="208"/>
<line x1="833" y1="271.3" x2="986" y2="271.3"/>
<line x1="841" y1="231.6" x2="910" y2="279.4"/>
<line x1="833" y1="313.8" x2="985" y2="313.8"/>
<line x1="828" y1="277.4" x2="912" y2="321"/>
</g>
<line x1="901.8" y1="129.5" x2="901.8" y2="325.3" stroke="#111" stroke-width="1.9" stroke-dasharray="4.6 3"/>
<rect x="604.2" y="21.3" width="380.6" height="304" fill="none" stroke="#151515" stroke-width="2.4"/>
<path d="M613.8 325.3 v-3.2 M654.9 325.3 v-6 M696 325.3 v-3.2 M737.2 325.3 v-6 M778.3 325.3 v-3.2 M819.5 325.3 v-6 M860.6 325.3 v-3.2 M901.8 325.3 v-6 M942.9 325.3 v-3.2" stroke="#111" stroke-width="2" fill="none"/>
<text x="654.9" y="351" font-size="23" text-anchor="middle" fill="#231f20">15</text>
<text x="737.2" y="351" font-size="23" text-anchor="middle" fill="#231f20">10</text>
<text x="819.5" y="351" font-size="23" text-anchor="middle" fill="#231f20">5</text>
<text x="901.8" y="351" font-size="23" text-anchor="middle" fill="#231f20">0</text>
<text x="984.6" y="351" font-size="23" text-anchor="middle" fill="#231f20">−5</text>
<text x="795.5" y="379.5" font-size="23" text-anchor="middle" fill="#231f20" letter-spacing="0.2">Binding energy/eV</text>
<text x="795.5" y="412" font-size="23" text-anchor="middle" fill="#231f20">(b)</text>
<text x="589" y="173" font-size="23" text-anchor="middle" fill="#231f20" transform="rotate(-90 589 173)">Intensity/a.u.</text>
<text x="793" y="49" font-size="23" text-anchor="middle" fill="#231f20">Valence band</text>
<text x="662.5" y="59.5" font-size="23" text-anchor="middle" fill="#231f20">C 2s</text>
<text x="720.5" y="91.5" font-size="23" text-anchor="middle" fill="#231f20">s-p</text>
<text x="806" y="104" font-size="23" text-anchor="middle" fill="#231f20">C 2p</text>
<text x="776" y="148.5" font-size="17.3" text-anchor="start" fill="#231f20">0.27 eV</text>
<text x="776" y="205" font-size="17.3" text-anchor="start" fill="#231f20">0.22 eV</text>
<text x="776" y="261.3" font-size="17.3" text-anchor="start" fill="#231f20">0.18 eV</text>
<text x="776" y="312" font-size="17.3" text-anchor="start" fill="#231f20">0.1 eV</text>
<text x="967" y="152" font-size="16" text-anchor="middle" fill="#231f20">1#</text>
<text x="967" y="195" font-size="16" text-anchor="middle" fill="#231f20">2#</text>
<text x="967" y="264.5" font-size="16" text-anchor="middle" fill="#231f20">3#</text>
<text x="967" y="306" font-size="16" text-anchor="middle" fill="#231f20">4#</text>
<text x="906" y="146" font-size="17" fill="#231f20"><tspan font-style="italic">E</tspan><tspan font-size="10.5" dy="4.5">F</tspan></text>
</g>
<g id="pc">
<path d="M77.8 439.4 H453.6 M77.8 741.6 H453.6" stroke="#111" stroke-width="2.4" fill="none"/>
<path d="M84.3 741.6 v-3.2 M89.3 741.6 v-3.2 M93.7 741.6 v-3.2 M97.5 741.6 v-3.2 M100.9 741.6 v-6 M123.4 741.6 v-3.2 M136.6 741.6 v-3.2 M145.9 741.6 v-3.2 M153.2 741.6 v-3.2 M159.1 741.6 v-3.2 M164.1 741.6 v-3.2 M168.5 741.6 v-3.2 M172.3 741.6 v-3.2 M175.7 741.6 v-6 M198.2 741.6 v-3.2 M211.4 741.6 v-3.2 M220.7 741.6 v-3.2 M228 741.6 v-3.2 M233.9 741.6 v-3.2 M238.9 741.6 v-3.2 M243.3 741.6 v-3.2 M247.1 741.6 v-3.2 M250.5 741.6 v-6 M273 741.6 v-3.2 M286.2 741.6 v-3.2 M295.5 741.6 v-3.2 M302.8 741.6 v-3.2 M308.7 741.6 v-3.2 M313.7 741.6 v-3.2 M318.1 741.6 v-3.2 M321.9 741.6 v-3.2 M325.3 741.6 v-6 M347.8 741.6 v-3.2 M361 741.6 v-3.2 M370.3 741.6 v-3.2 M377.6 741.6 v-3.2 M383.5 741.6 v-3.2 M388.5 741.6 v-3.2 M392.9 741.6 v-3.2 M396.7 741.6 v-3.2 M400.1 741.6 v-6 M422.6 741.6 v-3.2 M435.8 741.6 v-3.2 M445.1 741.6 v-3.2 M452.4 741.6 v-3.2" stroke="#111" stroke-width="2.1" fill="none"/>
<path d="M77.8 741.6 h3 M77.8 698.4 h6 M77.8 655.2 h3 M77.8 612 h6 M77.8 568.8 h3 M77.8 525.6 h6 M77.8 482.4 h3 M77.8 439.2 h6" stroke="#2456b0" stroke-width="2.2" fill="none"/>
<path d="M453.6 741 h-6 M453.6 717.8 h-3 M453.6 694.5 h-3 M453.6 671.2 h-3 M453.6 648 h-6 M453.6 624.7 h-3 M453.6 601.5 h-3 M453.6 578.2 h-3 M453.6 555 h-6 M453.6 531.7 h-3 M453.6 508.5 h-3 M453.6 485.2 h-3 M453.6 462 h-6 M453.6 438.7 h-3" stroke="#e8262d" stroke-width="2.2" fill="none"/>
<line x1="77.8" y1="438.2" x2="77.8" y2="742.8000000000001" stroke="#2456b0" stroke-width="2.4"/>
<line x1="453.6" y1="438.2" x2="453.6" y2="742.8000000000001" stroke="#e8262d" stroke-width="2.4"/>
<polyline points="151.5,462.7 187.7,562.5 251.4,578.6 366.8,613.7" fill="none" stroke="#e8262d" stroke-width="2.4"/>
<polyline points="151.5,551.5 187.7,594.6 251.4,629.0 366.8,698.0" fill="none" stroke="#2456b0" stroke-width="2.4"/>
<circle cx="151.5" cy="462.7" r="6" fill="#e8262d"/>
<circle cx="187.7" cy="562.5" r="6" fill="#e8262d"/>
<circle cx="251.4" cy="578.6" r="6" fill="#e8262d"/>
<circle cx="366.8" cy="613.7" r="6" fill="#e8262d"/>
<rect x="145.6" y="545.6" width="11.8" height="11.8" fill="#2456b0"/>
<rect x="181.8" y="588.7" width="11.8" height="11.8" fill="#2456b0"/>
<rect x="245.5" y="623.1" width="11.8" height="11.8" fill="#2456b0"/>
<rect x="360.9" y="692.1" width="11.8" height="11.8" fill="#2456b0"/>
<g fill="#e8262d" stroke="#e8262d"><line x1="168" y1="471.6" x2="215" y2="471.6" stroke-width="2.8"/><path d="M212.5 465.8 L233.5 471.6 L212.5 477.4 Z" stroke="none"/></g>
<g fill="#2456b0" stroke="#2456b0"><line x1="327" y1="699.5" x2="285" y2="699.5" stroke-width="2.8"/><path d="M287.5 693 L264.5 699.5 L287.5 706 Z" stroke="none"/></g>
<line x1="309.5" y1="471.5" x2="351.5" y2="471.5" stroke="#2456b0" stroke-width="2.4"/><rect x="324.6" y="465.6" width="11.8" height="11.8" fill="#2456b0"/>
<line x1="309.5" y1="502" x2="351.5" y2="502" stroke="#e8262d" stroke-width="2.4"/><circle cx="330.5" cy="502" r="6" fill="#e8262d"/>
<text x="356.5" y="478.5" font-size="24" fill="#231f20"><tspan font-style="italic">E</tspan><tspan font-size="14.5" dy="5.5">B</tspan></text>
<text x="354.8" y="509" font-size="24" text-anchor="start" fill="#231f20">BE shift</text>
<text x="70.5" y="446.7" font-size="23" text-anchor="end" fill="#231f20">0.4</text>
<text x="70.5" y="533.1" font-size="23" text-anchor="end" fill="#231f20">0.3</text>
<text x="70.5" y="619.5" font-size="23" text-anchor="end" fill="#231f20">0.2</text>
<text x="70.5" y="705.9" font-size="23" text-anchor="end" fill="#231f20">0.1</text>
<text x="460.5" y="468.8" font-size="23" text-anchor="start" fill="#231f20">0</text>
<text x="460.5" y="561.8" font-size="23" text-anchor="start" fill="#231f20">−0.4</text>
<text x="460.5" y="654.8" font-size="23" text-anchor="start" fill="#231f20">−0.8</text>
<text x="460.5" y="747.8" font-size="23" text-anchor="start" fill="#231f20">−1.2</text>
<text x="83.4" y="766.7" font-size="23" fill="#231f20">10<tspan font-size="13" dy="-8.7">14</tspan></text>
<text x="158.2" y="766.7" font-size="23" fill="#231f20">10<tspan font-size="13" dy="-8.7">15</tspan></text>
<text x="233" y="766.7" font-size="23" fill="#231f20">10<tspan font-size="13" dy="-8.7">16</tspan></text>
<text x="307.8" y="766.7" font-size="23" fill="#231f20">10<tspan font-size="13" dy="-8.7">17</tspan></text>
<text x="382.6" y="766.7" font-size="23" fill="#231f20">10<tspan font-size="13" dy="-8.7">18</tspan></text>
<text x="262.5" y="795.5" font-size="23" text-anchor="middle" fill="#231f20">Hole concentration/cm<tspan font-size="13" dy="-7.5">−3</tspan></text>
<text x="266" y="825.5" font-size="23" text-anchor="middle" fill="#231f20">(c)</text>
<text x="20.5" y="590" font-size="23" text-anchor="middle" fill="#231f20" transform="rotate(-90 20.5 590)"><tspan font-style="italic">E</tspan><tspan font-size="14.5" dy="6" dx="-0.5">B</tspan><tspan dy="-6" dx="-1">/eV</tspan></text>
<text x="528.5" y="590" font-size="23" text-anchor="middle" fill="#231f20" transform="rotate(-90 528.5 590)">BE shift/eV</text>
</g>
<g id="pd">
<defs><linearGradient id="gc" x1="0" y1="0" x2="0" y2="1"><stop offset="0" stop-color="#b3cbec"/><stop offset="0.12" stop-color="#a4bde5"/><stop offset="0.3" stop-color="#9aadda"/><stop offset="0.5" stop-color="#8a82be"/><stop offset="0.7" stop-color="#794896"/><stop offset="0.86" stop-color="#702c7f"/><stop offset="1" stop-color="#652a70"/></linearGradient><linearGradient id="gv" x1="0" y1="1" x2="0" y2="0"><stop offset="0" stop-color="#b3cbec"/><stop offset="0.12" stop-color="#a4bde5"/><stop offset="0.3" stop-color="#9aadda"/><stop offset="0.5" stop-color="#8a82be"/><stop offset="0.7" stop-color="#794896"/><stop offset="0.86" stop-color="#702c7f"/><stop offset="1" stop-color="#652a70"/></linearGradient></defs>
<rect x="609.4" y="433" width="377.2" height="68.4" fill="url(#gc)"/>
<rect x="609.4" y="719.6" width="377.2" height="68.6" fill="url(#gv)"/>
<text x="797" y="476.5" font-size="23" text-anchor="middle" fill="#fff" class="w">Conduction band</text>
<text x="797" y="764" font-size="23" text-anchor="middle" fill="#fff" class="w">Valence band</text>
<line x1="610" y1="652.3" x2="1004" y2="652.3" stroke="#3568bd" stroke-width="2.1" stroke-dasharray="19 7.2"/>
<line x1="626" y1="675" x2="690.5" y2="675" stroke="#2fa860" stroke-width="4.6"/>
<line x1="714" y1="681.4" x2="778" y2="681.4" stroke="#1f6fbf" stroke-width="4.6"/>
<line x1="805" y1="696.2" x2="869" y2="696.2" stroke="#e8262d" stroke-width="4.6"/>
<line x1="893" y1="702.5" x2="956.5" y2="702.5" stroke="#1d2556" stroke-width="4.6"/>
<g fill="#e8262d" stroke="#e8262d"><line x1="658" y1="685.1" x2="658" y2="711.9" stroke-width="2"/><path d="M653.7 687 L658 677.5 L662.3 687 Z M653.7 710 L658 719.5 L662.3 710 Z" stroke="none"/></g>
<g fill="#e8262d" stroke="#e8262d"><line x1="746" y1="691.1" x2="746" y2="711.9" stroke-width="2"/><path d="M741.7 693 L746 683.5 L750.3 693 Z M741.7 710 L746 719.5 L750.3 710 Z" stroke="none"/></g>
<g fill="#e8262d" stroke="#e8262d"><line x1="836.5" y1="704.8" x2="836.5" y2="712.7" stroke-width="2"/><path d="M832.2 706.5 L836.5 698 L840.8 706.5 Z M832.2 711 L836.5 719.5 L840.8 711 Z" stroke="none"/></g>
<g fill="#e8262d" stroke="#e8262d"><line x1="924" y1="710.8" x2="924" y2="713.7" stroke-width="2"/><path d="M919.7 712.2 L924 705 L928.3 712.2 Z M919.7 712.3 L924 719.5 L928.3 712.3 Z" stroke="none"/></g>
<g fill="#e8262d" stroke="#e8262d"><line x1="967" y1="510.9" x2="967" y2="713.1" stroke-width="3.7"/><path d="M961.4 513 L967 502.5 L972.6 513 Z M961.4 711 L967 721.5 L972.6 711 Z" stroke="none"/></g>
<g fill="#2f63b5" stroke="#2f63b5"><line x1="980.5" y1="661.5" x2="980.5" y2="711" stroke-width="1.8"/><path d="M976.3 663.5 L980.5 653.5 L984.7 663.5 Z M976.3 709 L980.5 719 L984.7 709 Z" stroke="none"/></g>
<text x="985.5" y="603.5" font-size="23" text-anchor="start" fill="#231f20">5.5 eV</text>
<text x="989" y="695.5" font-size="23" text-anchor="start" fill="#231f20">0.37 eV</text>
<text x="882.7" y="603.5" font-size="23" text-anchor="middle" fill="#231f20">Boron</text>
<text x="882.7" y="621.5" font-size="23" text-anchor="middle" fill="#231f20">acceptor level</text>
<text x="635" y="712.5" font-size="23" text-anchor="middle" fill="#231f20">1#</text>
<text x="723" y="712.5" font-size="23" text-anchor="middle" fill="#231f20">2#</text>
<text x="837" y="686" font-size="23" text-anchor="middle" fill="#231f20">3#</text>
<text x="924" y="694.5" font-size="23" text-anchor="middle" fill="#231f20">4#</text>
<text x="597" y="682" font-size="23" fill="#231f20"><tspan font-style="italic">E</tspan><tspan font-size="14.5" dy="7.3" dx="0.5">F</tspan></text>
<text x="795" y="826" font-size="23" text-anchor="middle" fill="#231f20">(d)</text>
<g opacity="0.62" fill="#8a8a8a">
<g transform="translate(747.2,774.3) scale(1.1)"><ellipse cx="13" cy="10" rx="13" ry="10.5"/><path d="M4 17 L1 25 L11 20 Z"/><ellipse cx="27.5" cy="19.5" rx="11.5" ry="9.5" stroke="#fff" stroke-width="1.5"/><path d="M33 27 L38 32 L29 29 Z"/><circle cx="8.5" cy="7" r="1.7" fill="#fff"/><circle cx="17.5" cy="7" r="1.7" fill="#fff"/><circle cx="23.5" cy="17" r="1.5" fill="#fff"/><circle cx="31.5" cy="17" r="1.5" fill="#fff"/></g>
<g font-size="30.4" font-family="'Liberation Sans', 'Noto Sans CJK SC', sans-serif" fill="#7d7d7d"><text class="n" x="798" y="804.5">公众号</text><text class="n" x="904" y="804.5" text-anchor="middle">·</text><text class="n" x="924" y="804.5">化合积电</text></g>
</g>
</g>
</svg>
</body></html>
